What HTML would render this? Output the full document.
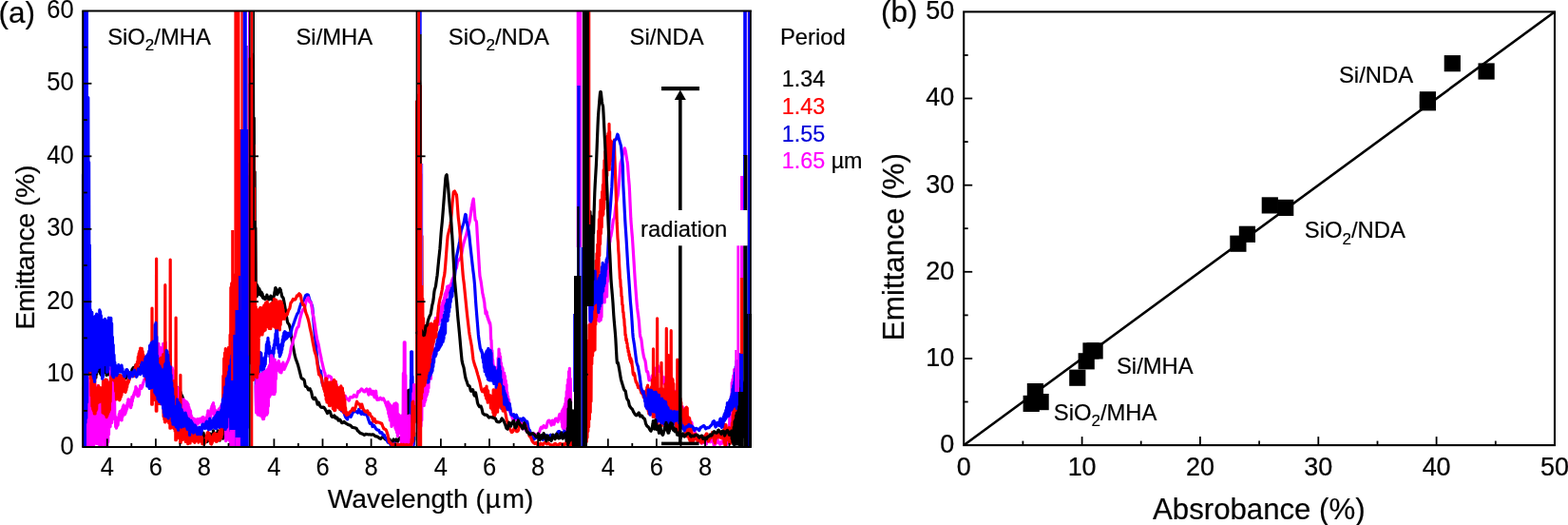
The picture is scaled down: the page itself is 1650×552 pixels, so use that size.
<!DOCTYPE html>
<html lang="en"><head><meta charset="utf-8"><title>Emittance and absorbance</title>
<style>html,body{margin:0;padding:0;background:#fff}body{width:1650px;height:552px;overflow:hidden}svg{display:block}</style>
</head><body>
<svg width="1650" height="552" viewBox="0 0 1650 552">
<rect width="1650" height="552" fill="#fff"/>
<defs>
<clipPath id="c0"><rect x="85.7" y="11.4" width="176.1" height="459.2"/></clipPath>
<clipPath id="c1"><rect x="261.3" y="11.4" width="176.1" height="459.2"/></clipPath>
<clipPath id="c2"><rect x="436.9" y="11.4" width="176.3" height="459.2"/></clipPath>
<clipPath id="c3"><rect x="612.7" y="11.4" width="178.8" height="459.2"/></clipPath>
</defs>
<g clip-path="url(#c0)" fill="none" stroke-linejoin="round" stroke-linecap="round">
<polyline stroke="#000" stroke-width="3.2" points="88.5,387.4 88.9,393.1 89.3,388.2 89.7,393.1 90.1,389.1 90.5,393.5 90.9,386.9 91.3,391.9 91.7,385.7 92.1,392.1 92.5,387.1 92.9,393.0 93.3,387.0 93.7,393.7 94.1,386.8 94.5,392.8 94.9,386.6 95.3,393.0 95.7,385.7 96.1,392.4 96.5,383.9 96.9,390.1 97.3,382.7 97.7,389.8 98.1,383.2 98.5,392.8 98.9,388.8 99.3,396.9 99.7,390.8 100.1,397.4 100.5,391.6 100.9,397.1 101.3,390.4 101.7,393.3 102.1,388.2 102.5,390.7 102.9,385.9 103.3,388.4 103.7,383.6 104.1,389.2 104.5,384.6 104.9,390.7 105.3,386.5 105.7,392.8 106.1,389.4 106.5,394.4 106.9,389.1 107.3,391.8 107.7,386.9 108.1,391.0 108.5,386.7 108.9,391.2 109.3,387.4 109.7,391.0 110.1,387.2 110.5,390.6 110.9,386.4 111.3,392.0 111.7,390.5 112.1,394.7 112.5,390.9 112.9,393.6 113.3,390.3 113.7,393.1 114.1,390.7 114.5,393.8 114.9,391.0 115.3,393.9 115.7,390.5 116.1,392.8 116.5,389.6 116.9,391.3 117.3,387.0 117.7,387.8 118.1,385.8 118.5,389.1 118.9,387.5 119.3,389.9 119.7,387.5 120.1,389.2 120.5,387.7 120.9,390.7 121.3,389.9 121.7,392.5 122.1,390.6 122.5,392.4 122.9,390.5 123.3,394.0 123.7,394.0 124.1,397.2 124.5,395.5 124.9,395.8 125.3,394.5 125.7,395.5 126.1,396.4 126.5,398.4 126.9,398.8 127.3,399.1 127.7,397.9 128.1,398.2 128.5,397.4 128.9,398.1 129.3,397.6 129.7,398.2 130.1,396.1 130.5,394.5 130.9,392.5 131.3,393.1 131.7,394.8 132.1,396.6 132.5,397.7 132.9,395.9 133.3,394.1 133.7,392.3 134.1,391.9 134.5,391.7 134.9,391.6 135.3,391.4 135.7,392.5 136.1,394.0 136.5,395.2 136.9,394.6 137.3,394.1 137.7,393.6 138.1,392.3 138.5,390.7 138.9,388.7 139.3,387.9 139.7,387.4 140.1,387.0 140.5,386.4 140.9,387.7 141.3,388.4 141.7,390.3 142.1,389.4 142.5,387.7 142.9,383.8 143.3,384.9 143.7,383.9 144.1,386.4 144.5,385.7 144.9,387.6 145.3,386.7 145.7,389.1 146.1,386.9 146.5,389.5 146.9,386.1 147.3,389.6 147.7,386.1 148.1,388.2 148.5,383.5 148.9,384.8 149.3,380.1 149.7,381.6 150.1,380.1 150.5,383.5 150.9,382.2 151.3,385.1 151.7,383.4 152.1,386.7 152.5,384.5 152.9,387.2 153.3,384.3 153.7,387.5 154.1,383.3 154.5,384.9 154.9,379.5 155.3,383.1 155.7,378.9 156.1,383.7 156.5,379.1 156.9,382.7 157.3,378.6 157.7,382.2 158.1,377.3 158.5,382.8 158.9,378.0 159.3,386.2 159.7,379.5 160.1,388.6 160.5,381.2 160.9,391.1 161.3,382.2 161.7,389.3 162.1,382.8 162.5,389.9 162.9,381.8 163.3,389.4 163.7,380.7 164.1,388.3 164.5,383.0 164.9,387.8 165.3,383.8 165.7,391.6 166.1,385.4 166.5,394.4 166.9,386.9 167.3,392.9 167.7,383.6 168.1,395.0 168.5,382.4 168.9,394.9 169.3,381.8 169.7,400.1 170.1,383.7 170.5,398.5 170.9,379.9 171.3,400.3 171.7,379.8 172.1,403.6 172.5,390.8 172.9,411.9 173.3,391.8 173.7,416.1 174.1,394.0 174.5,417.3 174.9,393.8 175.3,414.4 175.7,387.6 176.1,416.4 176.5,388.7 176.9,418.6 177.3,388.9 177.7,418.0 178.1,390.6 178.5,419.5 178.9,398.8 179.3,425.7 179.7,398.7 180.1,429.2 180.5,401.9 180.9,428.8 181.3,404.7 181.7,434.2 182.1,411.8 182.5,436.0 182.9,413.7 183.3,436.5 183.7,417.7 184.1,440.3 184.5,415.1 184.9,443.3 185.3,415.6 185.7,445.3 186.1,416.3 186.5,442.8 186.9,407.5 187.3,438.9 187.7,410.9 188.1,439.5 188.5,410.1 188.9,440.8 189.3,410.9 189.7,442.8 190.1,412.3 190.5,443.7 190.9,414.7 191.3,443.3 191.7,416.1 192.1,434.6 192.5,418.0 192.9,437.2 193.3,421.4 193.7,438.6 194.1,427.3 194.5,449.3 194.9,430.4 195.3,451.3 195.7,434.2 196.1,453.7 196.5,435.7 196.9,454.2 197.3,437.6 197.7,455.0 198.1,436.4 198.5,453.6 198.9,438.8 199.3,455.1 199.7,441.6 200.1,455.1 200.5,444.5 200.9,454.6 201.3,443.5 201.7,453.6 202.1,445.5 202.5,456.5 202.9,449.9 203.3,458.4 203.7,450.2 204.1,457.1 204.5,450.5 204.9,454.5 205.3,452.9 205.7,457.0 206.1,455.6 206.5,456.8 206.9,453.6 207.3,455.3 207.7,452.2 208.1,454.8 208.5,452.4 208.9,455.4 209.3,454.7 209.7,456.9 210.1,456.7 210.5,458.2 210.9,458.2 211.3,459.8 211.7,458.5 212.1,457.8 212.5,455.4 212.9,456.0 213.3,455.0 213.7,456.3 214.1,455.2 214.5,458.1 214.9,458.3 215.3,461.3 215.7,461.3 216.1,463.2 216.5,462.2 216.9,464.1 217.3,462.9 217.7,464.5 218.1,462.9 218.5,464.1 218.9,461.8 219.3,462.2 219.7,460.0 220.1,460.6 220.5,458.2 220.9,458.9 221.3,456.0 221.7,458.9 222.1,457.7 222.5,461.4 222.9,460.3 223.3,462.9 223.7,458.1 224.1,457.6 224.5,452.8 224.9,456.0 225.3,455.1 225.7,459.4 226.1,457.3 226.5,461.1 226.9,457.2 227.3,460.6 227.7,456.5 228.1,460.0 228.5,455.1 228.9,457.7 229.3,452.8 229.7,457.6 230.1,455.5 230.5,461.4 230.9,458.2 231.3,463.1 231.7,454.3 232.1,459.3 232.5,448.8 232.9,456.7 233.3,450.5 233.7,459.1 234.1,450.9 234.5,461.1 234.9,448.4 235.3,459.8 235.7,445.2 236.1,458.3 236.5,435.9 236.9,457.7 237.3,436.6 237.7,459.2"/>
<polyline stroke="#f0f" stroke-width="3.2" points="87.7,408.5 88.1,470.9 88.5,405.1 88.9,469.1 89.3,403.4 89.7,473.0 90.1,406.0 90.5,477.5 90.9,419.6 91.3,475.4 91.7,420.9 92.1,476.1 92.5,420.5 92.9,473.5 93.3,421.4 93.7,477.8 94.1,417.0 94.5,471.4 94.9,417.2 95.3,468.1 95.7,418.9 96.1,469.9 96.5,408.5 96.9,476.3 97.3,404.9 97.7,472.1 98.1,406.0 98.5,476.6 98.9,409.2 99.3,454.6 99.7,406.0 100.1,457.1 100.5,410.0 100.9,457.1 101.3,407.8 101.7,466.4 102.1,425.3 102.5,463.4 102.9,425.6 103.3,463.4 103.7,418.3 104.1,463.3 104.5,421.8 104.9,462.4 105.3,419.1 105.7,464.2 106.1,423.9 106.5,469.3 106.9,412.2 107.3,468.8 107.7,413.7 108.1,453.0 108.5,428.9 108.9,454.6 109.3,427.2 109.7,457.3 110.1,429.6 110.5,452.6 110.9,431.5 111.3,476.9 111.7,423.2 112.1,475.4 112.5,420.7 112.9,476.7"/>
<polyline stroke="#f0f" stroke-width="3.2" points="87.7,425.1 88.1,464.3 88.5,423.7 88.9,465.1 89.3,401.6 89.7,470.6 90.1,399.5 90.5,470.9 90.9,396.4 91.3,468.0 91.7,401.8 92.1,473.6 92.5,397.6 92.9,470.3 93.3,402.9 93.7,475.6 94.1,426.0 94.5,474.4 94.9,424.2 95.3,474.2 95.7,406.5 96.1,461.3 96.5,408.3 96.9,464.2 97.3,410.2 97.7,460.5 98.1,411.2 98.5,453.1 98.9,421.6 99.3,456.4 99.7,422.0 100.1,465.8 100.5,419.1 100.9,461.7 101.3,417.1 101.7,465.4 102.1,409.0 102.5,466.1 102.9,405.3 103.3,464.1 103.7,409.4 104.1,467.3 104.5,426.9 104.9,467.0 105.3,430.4 105.7,467.6 106.1,429.8 106.5,465.2 106.9,430.2 107.3,464.2 107.7,410.6 108.1,454.8 108.5,408.5 108.9,450.9 109.3,409.4 109.7,452.3 110.1,413.5 110.5,473.2 110.9,411.8 111.3,469.8 111.7,408.8 112.1,472.6 112.5,410.8 112.9,461.6 113.3,416.0 113.7,464.7 114.1,414.0 114.5,456.7 114.9,408.1 115.3,449.3 115.7,401.4 116.1,448.5 116.5,387.0 116.9,442.2 117.3,374.5 117.7,444.4 118.1,378.7 118.5,440.1 118.9,379.2 119.3,425.6 119.7,396.6 120.1,430.2 120.5,415.2 120.9,441.2 121.3,437.6 121.7,448.6 122.1,442.5 122.5,450.1 122.9,442.9 123.3,448.2 123.7,441.2 124.1,446.8 124.5,438.6 124.9,442.5 125.3,435.4 125.7,440.0 126.1,432.6 126.5,439.4 126.9,432.2 127.3,441.0 127.7,434.0 128.1,442.0 128.5,430.3 128.9,438.4 129.3,427.6 129.7,436.1 130.1,425.8 130.5,434.8 130.9,427.2 131.3,435.8 131.7,427.8 132.1,434.3 132.5,429.0 132.9,431.9 133.3,426.6 133.7,429.7 134.1,423.3 134.5,426.9 134.9,419.8 135.3,426.3 135.7,420.2 136.1,426.8 136.5,421.9 136.9,427.2 137.3,420.7 137.7,428.6 138.1,420.5 138.5,426.2 138.9,417.3 139.3,422.0 139.7,417.2 140.1,418.5 140.5,415.3 140.9,416.0 141.3,412.8 141.7,414.0 142.1,410.9 142.5,413.8 142.9,406.7 143.3,412.8 143.7,408.1 144.1,414.8 144.5,411.3 144.9,416.6 145.3,411.8 145.7,416.3 146.1,411.6 146.5,414.8 146.9,409.1 147.3,408.6 147.7,405.5 148.1,407.9 148.5,406.3 148.9,408.4 149.3,406.6 149.7,407.1 150.1,404.1 150.5,404.3 150.9,401.7 151.3,401.6 151.7,399.4 152.1,399.9 152.5,398.4 152.9,398.8 153.3,396.0 153.7,394.9 154.1,391.3 154.5,393.9 154.9,389.9 155.3,395.6 155.7,388.2 156.1,398.1 156.5,386.3 156.9,397.8 157.3,384.5 157.7,399.2 158.1,381.5 158.5,400.7 158.9,380.0 159.3,400.3 159.7,381.8 160.1,406.5 160.5,381.1 160.9,409.8 161.3,379.9 161.7,408.9 162.1,377.7 162.5,405.8 162.9,379.5 163.3,406.2 163.7,375.4 164.1,407.9 164.5,373.7 164.9,417.9 165.3,363.4 165.7,418.1 166.1,365.0 166.5,417.4 166.9,361.3 167.3,421.2 167.7,367.7 168.1,421.8 168.5,365.2 168.9,424.7 169.3,383.9 169.7,402.3 170.1,382.2 170.5,407.9 170.9,382.5 171.3,405.3 171.7,361.3 172.1,417.8 172.5,366.1 172.9,416.9 173.3,365.6 173.7,420.2 174.1,359.8 174.5,427.6 174.9,370.4 175.3,428.6 175.7,372.4 176.1,428.6 176.5,373.0 176.9,427.0 177.3,392.2 177.7,430.2 178.1,397.1 178.5,431.9 178.9,382.8 179.3,436.0 179.7,384.5 180.1,433.7 180.5,387.5 180.9,437.5 181.3,386.9 181.7,437.9 182.1,389.3 182.5,434.3 182.9,404.7 183.3,433.4 183.7,408.5 184.1,435.1 184.5,401.8 184.9,434.7 185.3,404.3 185.7,433.4 186.1,406.5 186.5,435.3 186.9,408.2 187.3,426.7 187.7,408.9 188.1,428.4 188.5,412.2 188.9,432.6 189.3,419.8 189.7,431.9 190.1,422.3 190.5,436.3 190.9,419.5 191.3,435.6 191.7,422.1 192.1,436.9 192.5,420.7 192.9,436.9 193.3,419.8 193.7,435.8 194.1,421.0 194.5,436.4 194.9,421.6 195.3,437.4 195.7,422.1 196.1,434.6 196.5,422.5 196.9,433.9 197.3,423.7 197.7,435.5 198.1,425.1 198.5,437.0 198.9,428.2 199.3,438.4 199.7,430.7 200.1,439.2 200.5,432.2 200.9,441.4 201.3,436.8 201.7,444.9 202.1,439.5 202.5,443.9 202.9,439.7 203.3,443.4 203.7,440.2 204.1,443.8 204.5,440.3 204.9,444.5 205.3,443.4 205.7,448.2 206.1,446.5 206.5,448.2 206.9,444.2 207.3,445.0 207.7,440.6 208.1,440.8 208.5,441.1 208.9,445.2 209.3,444.2 209.7,444.2 210.1,440.4 210.5,441.3 210.9,440.5 211.3,443.7 211.7,442.4 212.1,444.2 212.5,439.7 212.9,441.0 213.3,438.5 213.7,440.8 214.1,438.6 214.5,443.3 214.9,442.9 215.3,446.7 215.7,442.1 216.1,444.7 216.5,440.9 216.9,443.3 217.3,439.0 217.7,441.6 218.1,436.2 218.5,438.5 218.9,431.9 219.3,436.7 219.7,434.4 220.1,442.0 220.5,437.9 220.9,442.1 221.3,432.9 221.7,438.3 222.1,429.7 222.5,435.4 222.9,427.2 223.3,434.4 223.7,425.0 224.1,432.8 224.5,423.6 224.9,433.6 225.3,427.0 225.7,436.9 226.1,430.5 226.5,438.6 226.9,431.6 227.3,438.4 227.7,433.3 228.1,439.3 228.5,433.3 228.9,439.1 229.3,432.6 229.7,436.8 230.1,430.3 230.5,435.2 230.9,429.6 231.3,439.8 231.7,428.5 232.1,440.4 232.5,427.0 232.9,441.2 233.3,424.8 233.7,441.9 234.1,429.0 234.5,443.8 234.9,428.1 235.3,436.4 235.7,413.5 236.1,438.3 236.5,406.7 236.9,438.6 237.3,400.7 237.7,463.7 238.1,399.8 238.5,462.6 238.9,395.9 239.3,438.2 239.7,394.4 240.1,436.5 240.5,393.0 240.9,439.4 241.3,395.7 241.7,463.5 242.1,393.5 242.5,466.8 242.9,394.5 243.3,467.8 243.7,382.1 244.1,459.4 244.5,372.0 244.9,427.9 245.3,353.3 245.7,423.3 246.1,342.7 246.5,420.8"/>
<polyline stroke="#f00" stroke-width="3.2" points="94.9,389.9 95.3,398.2 95.7,394.1 96.1,416.2 96.5,395.8 96.9,427.2 97.3,395.4 97.7,430.3 98.1,396.3 98.5,432.1 98.9,394.0 99.3,434.9 99.7,395.3 100.1,434.9 100.5,407.3 100.9,431.9 101.3,408.4 101.7,430.3 102.1,408.9 102.5,423.9 102.9,408.0 103.3,423.2 103.7,405.7 104.1,423.0 104.5,407.2 104.9,422.4 105.3,409.1 105.7,420.2 106.1,408.1 106.5,422.0 106.9,407.6 107.3,419.7 107.7,408.4 108.1,433.9 108.5,400.6 108.9,433.8 109.3,402.7 109.7,434.7 110.1,400.1 110.5,435.4 110.9,399.0 111.3,436.2 111.7,399.0 112.1,438.6 112.5,399.6 112.9,436.9 113.3,403.9 113.7,434.8 114.1,402.3 114.5,433.1 114.9,402.9 115.3,431.1 115.7,401.8 116.1,422.3 116.5,398.1 116.9,396.5 117.3,396.2 117.7,394.9 118.1,393.6 118.5,394.4 118.9,396.2 119.3,398.0 119.7,399.8 120.1,400.2 120.5,400.0 120.9,399.8 121.3,401.5 121.7,411.4 122.1,396.4 122.5,419.9 122.9,395.8 123.3,416.9 123.7,395.1 124.1,418.8 124.5,394.8 124.9,417.0 125.3,394.9 125.7,420.8 126.1,395.1 126.5,419.4 126.9,394.6 127.3,417.2 127.7,395.5 128.1,414.9 128.5,395.6 128.9,412.0 129.3,396.9 129.7,410.3 130.1,397.1 130.5,410.1 130.9,400.0 131.3,411.8 131.7,402.6 132.1,412.5 132.5,403.2 132.9,410.1 133.3,402.2 133.7,407.1 134.1,401.1 134.5,403.5 134.9,399.6 135.3,401.9 135.7,398.8 136.1,399.6 136.5,396.7 136.9,397.0 137.3,393.8 137.7,395.3 138.1,393.9 138.5,394.5 138.9,392.4 139.3,394.4 139.7,392.2 140.1,395.7 140.5,392.4 140.9,395.4 141.3,392.8 141.7,393.1 142.1,387.0 142.5,388.4 142.9,383.8 143.3,390.5 143.7,382.9 144.1,389.7 144.5,380.3 144.9,387.5 145.3,375.0 145.7,382.2 146.1,371.7 146.5,379.8 146.9,369.1 147.3,381.5 147.7,366.0 148.1,381.6 148.5,366.9 148.9,382.8 149.3,366.4 149.7,383.6 150.1,369.3 150.5,384.9 150.9,373.0 151.3,388.0 151.7,375.6 152.1,392.6 152.5,375.9 152.9,394.3 153.3,378.7 153.7,399.0 154.1,378.0 154.5,395.9 154.9,377.5 155.3,397.5 155.7,376.4 156.1,400.7 156.5,377.9 156.9,402.2 157.3,369.7 157.7,402.3 158.1,368.3 158.5,404.6 158.9,367.3 159.3,405.3 159.7,370.3 159.7,425.2 160.0,324.1 160.3,425.2 160.1,404.2 160.5,367.4 160.9,419.7 161.3,363.3 161.7,419.9 162.1,363.5 162.5,420.4 162.9,376.3 163.3,408.6 163.7,375.1 164.1,410.5 164.5,379.0 164.3,432.2 164.6,272.2 164.9,432.2 164.9,413.7 165.3,379.4 165.7,412.3 166.1,379.7 166.5,424.5 166.9,378.7 167.3,423.5 167.7,377.7 168.1,424.6 168.5,378.0 168.9,411.5 169.3,376.2 169.7,411.6 170.1,377.9 170.5,416.2 170.9,376.8 171.3,417.4 171.7,372.5 172.1,438.0 172.5,372.5 172.9,441.1 173.3,377.3 173.7,438.9 173.5,443.8 173.8,299.7 174.1,443.8 174.1,390.7 174.5,439.9 174.9,393.1 175.3,441.4 175.7,394.4 176.1,440.3 176.5,401.2 176.9,442.4 177.3,384.9 177.7,444.8 178.1,382.6 178.5,442.5 178.9,387.4 178.9,450.2 179.2,273.0 179.5,450.2 179.3,444.8 179.7,388.5 180.1,432.2 180.5,401.2 180.9,435.4 181.3,400.9 181.7,437.9 182.1,404.1 182.5,450.1 182.9,400.6 183.3,450.7 183.7,404.5 184.1,453.2 184.5,401.9 184.9,451.9 184.8,462.7 185.1,334.0 185.4,462.7 185.3,401.2 185.7,452.1 186.1,422.9 186.5,460.5 186.9,426.8 187.3,459.2 187.7,429.7 188.1,460.6 188.5,433.6 188.9,459.3 189.3,432.7 189.7,460.9 189.6,465.5 189.9,394.3 190.2,465.5 190.1,433.4 190.5,462.2 190.9,437.3 191.3,461.8 191.7,439.3 192.1,462.4 192.5,443.5 192.9,459.6 193.3,444.8 193.7,459.6 194.1,445.8 194.5,459.7 194.9,444.9 195.3,464.4 195.7,445.9 196.1,462.6 196.5,448.9 196.9,464.3 197.3,453.2 197.7,466.7 198.1,454.1 198.5,464.8 198.9,452.3 199.3,462.4 199.7,453.2 200.1,465.9 200.5,454.8 200.9,463.4 201.3,453.5 201.7,462.3 202.1,453.1 202.5,461.4 202.9,454.3 203.3,464.0 203.7,455.4 204.1,464.5 204.5,456.3 204.9,465.3 205.3,457.2 205.7,464.1 206.1,455.0 206.5,461.2 206.9,452.7 207.3,459.8 207.7,454.2 208.1,463.3 208.5,458.2 208.9,465.2 209.3,458.1 209.7,463.2 210.1,456.3 210.5,463.1 210.9,456.7 211.3,463.5 211.7,457.9 212.1,464.7 212.5,460.2 212.9,466.6 213.3,461.9 213.7,466.5 214.1,464.5 214.5,467.4 214.9,464.6 215.3,466.2 215.7,462.9 216.1,464.6 216.5,461.0 216.9,463.5 217.3,458.2 217.7,461.2 218.1,455.4 218.5,459.0 218.9,454.3 219.3,459.7 219.7,455.3 220.1,461.4 220.5,457.4 220.9,463.6 221.3,459.3 221.7,466.3 222.1,461.8 222.5,467.2 222.9,460.5 223.3,465.6 223.7,458.8 224.1,463.9 224.5,456.8 224.9,462.0 225.3,456.4 225.7,459.9 226.1,455.5 226.5,460.1 226.9,457.5 227.3,464.2 227.7,457.6 228.1,464.5 228.5,456.6 228.9,463.6 229.3,458.6 229.7,462.3 230.1,457.4 230.5,461.7 230.9,454.2 231.3,462.4 231.7,452.9 232.1,460.7 232.5,442.2 232.9,459.8 233.3,437.9 233.7,457.1 234.1,425.5 234.5,446.8 234.9,395.2 235.3,438.2 235.7,376.9 236.1,436.1 236.5,371.1 236.9,431.6 237.3,366.5 237.7,440.6 238.1,388.1 238.5,440.0 238.9,381.3 239.3,431.8 239.7,382.7 240.1,434.0 240.5,365.4 240.9,430.9 241.3,365.5 241.7,432.3 242.1,352.1 242.5,432.6 242.9,302.3 243.3,444.7 243.7,297.9 244.1,457.7 244.5,300.0 244.9,449.7 245.3,303.5 245.7,456.4 246.1,298.1 246.5,451.3 246.9,289.2 247.3,400.1 247.7,294.6 248.1,398.5 248.5,287.6 248.9,390.8 249.3,311.1 249.7,404.5 250.1,299.8 250.5,398.8 250.9,308.6 251.3,403.4 251.7,312.4 252.1,391.7 252.5,263.9 252.9,402.3 253.3,266.1 253.7,462.3 254.1,263.1 254.5,457.8 254.9,267.2 255.3,465.1 255.7,270.5"/>
<polyline stroke="#00f" stroke-width="3.2" points="87.2,183.7 87.6,388.4 88.0,159.2 88.4,409.0 88.8,183.2 89.2,386.2 89.6,127.6 90.0,444.5 90.4,121.4 90.8,439.6 91.2,142.9 91.6,423.0 92.0,124.3 92.4,383.5 92.8,102.6 93.2,363.7 93.6,170.6 94.0,386.7 94.4,257.8 94.8,389.8 95.2,325.5 95.6,379.8 96.0,330.9 96.4,383.8 96.8,328.3 97.2,384.9 97.6,338.0 98.0,395.3 98.4,341.1 98.8,398.0 99.2,347.8 99.6,401.5 100.0,332.5 100.4,389.8 100.8,334.2 101.2,391.5 101.6,330.2 102.0,389.2 102.4,333.2 102.8,384.8 103.2,334.4 103.6,385.1 104.0,334.1 104.4,386.3 104.8,325.9 105.2,377.7 105.6,327.7 106.0,376.9 106.4,331.9 106.8,376.8 107.2,338.7 107.6,398.2 108.0,340.4 108.4,396.4 108.8,338.9 109.2,379.7 109.6,336.0 110.0,383.5 110.4,335.4 110.8,383.0 111.2,336.5 111.6,381.6 112.0,339.2 112.4,391.2 112.8,360.0 113.2,391.0 113.6,359.8 114.0,388.6 114.4,334.1 114.8,383.9 115.2,337.1 115.6,383.3 116.0,334.3 116.4,383.2 116.8,334.3 117.2,384.1 117.6,340.0 118.0,394.2 118.4,354.3 118.8,395.8 119.2,362.6 119.6,396.8 120.0,373.1 120.4,387.5 120.8,380.8 121.2,388.6 121.6,384.0 122.0,392.9 122.4,387.2 122.8,394.9 123.2,388.4 123.6,392.9 124.0,385.6 124.4,388.3 124.8,383.6 125.2,388.3 125.6,385.9 126.0,390.9 126.4,388.6 126.8,391.1 127.2,386.4 127.6,388.4 128.0,384.1 128.4,388.4 128.8,387.5 129.2,391.9 129.6,390.7 130.0,394.1 130.4,392.7 130.8,395.9 131.2,394.7 131.6,395.5 132.0,392.0 132.4,392.4 132.8,388.9 133.2,390.3 133.6,388.5 134.0,391.0 134.4,389.6 134.8,392.8 135.2,392.8 135.6,396.3 136.0,396.4 136.4,397.5 136.8,394.5 137.2,394.4 137.6,391.5 138.0,392.1 138.4,392.1 138.8,394.1 139.2,393.8 139.6,395.8 140.0,393.2 140.4,392.9 140.8,390.3 141.2,390.1 141.6,389.2 142.0,391.2 142.4,391.4 142.8,393.6 143.2,393.9 143.6,396.3 144.0,395.6 144.4,394.5 144.8,391.8 145.2,390.7 145.6,387.9 146.0,389.5 146.4,389.3 146.8,392.1 147.2,391.1 147.6,393.7 148.0,388.8 148.4,389.3 148.8,383.1 149.2,386.7 149.6,381.2 150.0,389.5 150.4,385.8 150.8,392.8 151.2,387.2 151.6,395.1 152.0,386.1 152.4,392.8 152.8,377.0 153.2,395.3 153.6,374.9 154.0,396.3 154.4,374.3 154.8,405.9 155.2,373.1 155.6,404.4 156.0,371.5 156.4,406.6 156.8,369.2 157.2,408.5 157.6,363.4 158.0,406.1 158.4,362.7 158.8,406.4 159.2,360.6 159.6,407.7 160.0,360.4 160.4,404.9 160.8,359.2 161.2,400.5 161.6,374.4 162.0,399.9 162.4,371.3 162.8,412.5 163.2,341.4 163.6,413.4 164.0,339.4 164.4,414.9 164.8,353.9 165.2,416.2 165.6,374.2 166.0,419.8 166.4,383.0 166.8,420.3 167.2,384.7 167.6,422.2 168.0,384.9 168.4,422.7 168.8,386.9 169.2,422.3 169.6,388.4 170.0,424.8 170.4,393.4 170.8,425.2 171.2,393.1 171.6,429.3 172.0,392.4 172.4,434.0 172.8,387.6 173.2,437.2 173.6,382.9 174.0,436.9 174.4,381.9 174.8,437.9 175.2,368.3 175.6,434.6 176.0,369.5 176.4,435.6 176.8,373.2 177.2,439.8 177.6,381.3 178.0,420.6 178.4,386.5 178.8,422.9 179.2,385.5 179.6,429.8 180.0,394.3 180.4,437.8 180.8,402.4 181.2,442.6 181.6,408.3 182.0,446.2 182.4,416.5 182.8,445.9 183.2,427.1 183.6,446.2 184.0,427.3 184.4,446.9 184.8,428.9 185.2,448.6 185.6,428.5 186.0,447.0 186.4,419.9 186.8,450.2 187.2,422.6 187.6,452.2 188.0,423.2 188.4,447.6 188.8,425.4 189.2,447.9 189.6,425.7 190.0,448.2 190.4,430.3 190.8,449.1 191.2,430.7 191.6,447.5 192.0,433.1 192.4,447.6 192.8,436.0 193.2,448.3 193.6,435.1 194.0,447.4 194.4,436.5 194.8,447.0 195.2,434.2 195.6,447.4 196.0,436.7 196.4,449.2 196.8,439.4 197.2,451.5 197.6,441.1 198.0,450.5 198.4,440.3 198.8,452.2 199.2,443.3 199.6,457.5 200.0,445.9 200.4,454.4 200.8,442.0 201.2,451.5 201.6,443.4 202.0,452.2 202.4,444.9 202.8,453.8 203.2,448.3 203.6,455.1 204.0,448.7 204.4,453.1 204.8,446.9 205.2,452.2 205.6,447.5 206.0,453.2 206.4,449.1 206.8,454.9 207.2,451.8 207.6,456.7 208.0,452.0 208.4,456.0 208.8,451.8 209.2,456.3 209.6,449.2 210.0,454.1 210.4,449.6 210.8,456.3 211.2,451.3 211.6,456.7 212.0,449.5 212.4,453.7 212.8,446.6 213.2,449.3 213.6,446.1 214.0,449.7 214.4,446.3 214.8,450.0 215.2,446.7 215.6,450.6 216.0,446.7 216.4,449.9 216.8,444.4 217.2,448.6 217.6,443.0 218.0,449.5 218.4,444.8 218.8,451.0 219.2,446.1 219.6,451.8 220.0,443.2 220.4,448.7 220.8,440.1 221.2,447.9 221.6,441.9 222.0,451.2 222.4,443.6 222.8,449.7 223.2,444.0 223.6,449.5 224.0,442.3 224.4,448.1 224.8,439.7 225.2,446.3 225.6,439.2 226.0,450.1 226.4,438.2 226.8,450.0 227.2,436.8 227.6,450.6 228.0,435.8 228.4,445.5 228.8,433.6 229.2,444.5 229.6,433.5 230.0,447.7 230.4,434.1 230.8,449.4 231.2,435.0 231.6,448.2 232.0,433.0 232.4,447.7 232.8,431.1 233.2,448.2 233.6,425.4 234.0,448.8 234.4,419.9 234.8,448.2 235.2,418.4 235.6,445.2 236.0,414.8 236.4,450.1 236.8,407.0 237.2,451.5 237.6,406.3 238.0,448.9 238.4,397.9 238.8,449.1 239.2,401.2 239.6,435.6 240.0,395.0 240.4,438.0 240.8,390.8 241.2,437.8 241.6,384.9 242.0,437.4 242.4,386.8 242.8,452.7 243.2,378.2 243.6,453.8 244.0,373.8 244.4,465.5 244.8,359.8 245.2,464.2 245.6,348.8 246.0,458.4 246.4,370.4 246.8,434.5 247.2,361.6 247.6,432.6 248.0,359.1 248.4,434.4 248.8,335.2 249.2,414.0 249.6,258.8 250.0,417.1 250.4,226.9 250.8,420.8 251.2,188.4 251.6,411.7 252.0,180.9 252.4,406.3 252.8,230.6 253.2,454.1 253.6,226.0 254.0,460.4 254.4,216.4 254.8,450.9 255.2,215.0 255.6,447.9 256.0,216.5 256.4,368.0 256.8,237.0 257.2,368.2 257.6,225.7 258.0,366.2 258.4,232.9 258.8,370.6 259.2,166.3 259.6,371.2 260.0,172.1 260.4,447.4 260.8,190.9 261.2,449.0 261.6,185.8"/>
<rect x="87.8" y="11.0" width="5.2" height="309.0" fill="#00f" stroke="none"/>
<rect x="87.8" y="320.0" width="3.2" height="149.0" fill="#00f" stroke="none"/>
<rect x="246.4" y="11.0" width="9.3" height="458.0" fill="#f00" stroke="none"/>
<rect x="243.2" y="242.0" width="3.2" height="158.0" fill="#f00" stroke="none"/>
<rect x="252.0" y="11.0" width="2.0" height="125.0" fill="#ff8080" stroke="none"/>
<rect x="253.2" y="136.0" width="9.0" height="190.0" fill="#00f" stroke="none"/>
<rect x="251.0" y="290.0" width="2.2" height="36.0" fill="#00f" stroke="none"/>
<rect x="247.5" y="326.0" width="14.7" height="26.0" fill="#00f" stroke="none"/>
<rect x="245.3" y="352.0" width="16.9" height="117.0" fill="#00f" stroke="none"/>
<rect x="255.7" y="11.0" width="6.5" height="125.0" fill="#00f" stroke="none"/>
<rect x="259.8" y="11.0" width="1.2" height="37.0" fill="#fff" stroke="none"/>
<rect x="259.8" y="48.0" width="1.2" height="88.0" fill="#9060c0" stroke="none"/>
<rect x="261.0" y="11.0" width="1.0" height="125.0" fill="#f0f" stroke="none"/>
<rect x="241.5" y="452.0" width="6.0" height="17.0" fill="#f0f" stroke="none"/>
<rect x="247.5" y="460.0" width="5.5" height="9.0" fill="#f0f" stroke="none"/>
</g>
<g clip-path="url(#c1)" fill="none" stroke-linejoin="round" stroke-linecap="round">
<polyline stroke="#000" stroke-width="3.2" points="263.3,88.0 263.7,269.6 264.1,80.7 264.5,283.6 264.9,68.0 265.3,281.6 265.7,81.6 266.1,295.5 266.5,57.4 266.9,299.5 267.3,124.1 267.7,301.9 268.1,180.6 268.5,304.7 268.9,239.7 269.3,304.5 269.7,298.8 270.1,311.6 270.5,299.7 270.9,310.4 271.3,301.3 271.7,309.6 272.1,303.8 272.5,309.4 272.9,303.6 273.3,308.2 273.7,305.5 274.1,309.8 274.5,307.5 274.9,310.8 275.3,307.4 275.7,310.4 276.1,308.8 276.5,313.0 276.9,311.4 277.3,313.7 277.7,312.4 278.1,313.7 278.5,313.0 278.9,314.7 279.3,313.9 279.7,314.1 280.1,312.1 280.5,312.6 280.9,310.0 281.3,312.7 281.7,311.9 282.1,314.3 282.5,313.2 282.9,314.9 283.3,313.7 283.7,314.5 284.1,312.4 284.5,312.7 284.9,311.1 285.3,312.5 285.7,312.4 286.1,314.5 286.5,314.2 286.9,315.6 287.3,313.3 287.7,313.6 288.1,311.1 288.5,311.1 288.9,307.4 289.3,306.0 289.7,302.9 290.1,302.6 290.5,304.2 290.9,308.8 291.3,308.0 291.7,309.6 292.1,306.5 292.5,308.2 292.9,305.3 293.3,306.9 293.7,304.4 294.1,305.9 294.5,303.3 294.9,305.4 295.3,304.6 295.7,307.2 296.1,308.3 296.5,310.7 296.9,312.2 297.3,312.3 297.7,312.7 298.1,313.3 298.5,315.1 298.9,317.3 299.3,319.5 299.7,321.7 300.1,324.1 300.5,326.7 300.9,329.2 301.3,331.8 301.7,334.1 302.1,336.3 302.5,338.5 302.9,339.6 303.3,340.1 303.7,340.5 304.1,341.0 304.5,342.1 304.9,343.6 305.3,345.0 305.7,346.5 306.1,349.5 306.5,352.7 306.9,355.8 307.3,358.1 307.7,360.2 308.1,362.3 308.5,364.5 308.9,366.6 309.3,368.8 309.7,371.1 310.1,373.2 310.5,374.6 310.9,376.1 311.3,377.6 311.7,378.6 312.1,379.6 312.5,380.7 312.9,381.9 313.3,383.1 313.7,384.3 314.1,385.8 314.5,387.4 314.9,388.9 315.3,390.5 315.7,392.1 316.1,393.7 316.5,395.4 316.9,396.8 317.3,397.4 317.7,398.1 318.1,398.1 318.5,398.1 318.9,398.5 319.3,398.9 319.7,399.3 320.1,399.6 320.5,401.3 320.9,403.8 321.3,406.1 321.7,406.3 322.1,406.5 322.5,406.6 322.9,406.7 323.3,407.3 323.7,408.2 324.1,409.0 324.5,409.9 324.9,409.9 325.3,409.4 325.7,409.0 326.1,408.6 326.5,409.6 326.9,410.5 327.3,411.4 327.7,412.5 328.1,414.4 328.5,416.3 328.9,418.0 329.3,418.6 329.7,419.2 330.1,419.6 330.5,419.0 330.9,418.6 331.3,418.1 331.7,418.5 332.1,419.3 332.5,420.0 332.9,420.8 333.3,422.1 333.7,423.6 334.1,425.2 334.5,424.6 334.9,423.9 335.3,423.2 335.7,424.2 336.1,425.2 336.5,426.2 336.9,427.0 337.3,427.5 337.7,428.0 338.1,428.2 338.5,428.3 338.9,428.4 339.3,428.4 339.7,428.2 340.1,428.0 340.5,428.0 340.9,428.5 341.3,428.9 341.7,429.4 342.1,430.1 342.5,430.8 342.9,431.4 343.3,432.1 343.7,432.9 344.1,433.7 344.5,434.5 344.9,434.0 345.3,433.4 345.7,432.8 346.1,432.1 346.5,432.1 346.9,432.5 347.3,432.8 347.7,434.1 348.1,435.3 348.5,436.5 348.9,437.8 349.3,438.3 349.7,438.4 350.1,438.5 350.5,438.5 350.9,438.0 351.3,437.5 351.7,437.0 352.1,437.2 352.5,438.3 352.9,439.3 353.3,439.9 353.7,439.6 354.1,439.3 354.5,439.0 354.9,439.3 355.3,440.2 355.7,441.1 356.1,442.1 356.5,441.8 356.9,441.6 357.3,441.4 357.7,441.2 358.1,441.7 358.5,442.5 358.9,443.3 359.3,444.2 359.7,444.4 360.1,444.7 360.5,444.7 360.9,444.3 361.3,444.0 361.7,443.6 362.1,443.4 362.5,443.8 362.9,444.2 363.3,444.6 363.7,444.9 364.1,445.2 364.5,445.4 364.9,445.6 365.3,445.8 365.7,446.1 366.1,446.4 366.5,446.6 366.9,446.7 367.3,446.8 367.7,446.9 368.1,447.0 368.5,447.2 368.9,447.4 369.3,447.7 369.7,448.2 370.1,448.7 370.5,449.2 370.9,449.4 371.3,449.4 371.7,449.5 372.1,449.6 372.5,449.7 372.9,449.8 373.3,449.8 373.7,449.9 374.1,450.1 374.5,450.2 374.9,450.3 375.3,450.7 375.7,451.6 376.1,452.5 376.5,453.1 376.9,453.3 377.3,453.5 377.7,454.0 378.1,454.5 378.5,454.9 378.9,455.2 379.3,455.5 379.7,455.7 380.1,455.8 380.5,455.9 380.9,456.0 381.3,456.1 381.7,456.4 382.1,456.6 382.5,456.9 382.9,457.1 383.3,457.3 383.7,457.3 384.1,457.0 384.5,456.7 384.9,456.4 385.3,456.4 385.7,456.6 386.1,456.7 386.5,456.7 386.9,456.7 387.3,456.8 387.7,456.8 388.1,456.8 388.5,456.8 388.9,456.8 389.3,456.8 389.7,456.9 390.1,457.0 390.5,457.1 390.9,457.1 391.3,457.0 391.7,456.9 392.1,456.9 392.5,456.9 392.9,457.0 393.3,457.2 393.7,457.4 394.1,457.9 394.5,458.3 394.9,458.7 395.3,458.8 395.7,458.8 396.1,458.9 396.5,458.9 396.9,459.0 397.3,459.3 397.7,459.5 398.1,459.8 398.5,460.1 398.9,460.5 399.3,460.8 399.7,461.0 400.1,461.1 400.5,461.3 400.9,460.9 401.3,460.5 401.7,460.2 402.1,459.8 402.5,459.6 402.9,459.6 403.3,459.5 403.7,459.5 404.1,460.1 404.5,460.8 404.9,461.5 405.3,461.8 405.7,462.0 406.1,462.3 406.5,462.4 406.9,462.5 407.3,462.7 407.7,462.8 408.1,463.2 408.5,463.7 408.9,463.9 409.3,462.9 409.7,461.9 410.1,462.0 410.5,462.9 410.9,463.7 411.3,464.6 411.7,464.9 412.1,464.6 412.5,464.4 412.9,464.1 413.3,463.5 413.7,462.8 414.1,462.0 414.5,462.5 414.9,463.2 415.3,464.0 415.7,463.8 416.1,463.4 416.5,462.7 416.9,462.0 417.3,462.3 417.7,462.8 418.1,463.5 418.5,464.1 418.9,463.6 419.3,462.7 419.7,461.8 420.1,460.9 420.5,460.4 420.9,460.5 421.3,460.7 421.7,460.8 422.1,460.8 422.5,460.7 422.9,460.7 423.3,460.8 423.7,462.7 424.1,464.2 424.5,465.7 424.9,465.2 425.3,465.2 425.7,464.6 426.1,465.2 426.5,464.2 426.9,464.4 427.3,458.5 427.7,465.9 428.1,451.3 428.5,461.6 428.9,410.9 429.3,453.6 429.7,411.0 430.1,450.8 430.5,410.0 430.9,452.5 431.3,439.7 431.7,463.7 432.1,452.8 432.5,464.6 432.9,454.7 433.3,465.7 433.7,458.2 434.1,466.2 434.5,459.6 434.9,466.4 435.3,459.5 435.7,463.8 436.1,457.0 436.5,461.8 436.9,456.3"/>
<polyline stroke="#00f" stroke-width="3.2" points="269.2,398.1 269.6,429.2 270.0,384.4 270.4,399.9 270.8,381.5 271.2,395.6 271.6,377.4 272.0,392.9 272.4,373.5 272.8,391.1 273.2,370.5 273.6,388.2 274.0,370.7 274.4,383.5 274.8,371.4 275.2,385.3 275.6,376.4 276.0,389.2 276.4,383.7 276.8,393.6 277.2,384.3 277.6,390.0 278.0,379.1 278.4,385.2 278.8,375.4 279.2,383.1 279.6,371.2 280.0,374.9 280.4,362.0 280.8,370.2 281.2,359.4 281.6,369.0 282.0,355.3 282.4,367.0 282.8,359.6 283.2,371.6 283.6,364.0 284.0,374.9 284.4,368.5 284.8,381.6 285.2,377.6 285.6,388.0 286.0,380.7 286.4,384.0 286.8,372.7 287.2,376.4 287.6,365.9 288.0,371.6 288.4,362.4 288.8,366.9 289.2,357.3 289.6,362.6 290.0,350.8 290.4,362.4 290.8,344.6 291.2,359.4 291.6,346.0 292.0,361.4 292.4,355.9 292.8,366.6 293.2,362.1 293.6,370.7 294.0,366.9 294.4,374.9 294.8,371.0 295.2,373.2 295.6,364.9 296.0,370.9 296.4,361.4 296.8,367.7 297.2,357.0 297.6,363.8 298.0,353.4 298.4,359.4 298.8,349.8 299.2,356.5 299.6,348.7 300.0,357.2 300.4,349.2 300.8,356.5 301.2,350.1 301.6,355.9 302.0,350.6 302.4,354.8 302.8,350.3 303.2,353.6 303.6,350.3 304.0,353.4 304.4,352.1 304.8,353.2 305.2,353.3 305.6,353.2 306.0,351.4 306.4,349.2 306.8,347.1 307.2,345.0 307.6,343.9 308.0,342.9 308.4,342.0 308.8,340.9 309.2,339.8 309.6,338.6 310.0,337.5 310.4,336.3 310.8,335.2 311.2,334.1 311.6,333.0 312.0,332.0 312.4,331.0 312.8,330.0 313.2,329.5 313.6,329.1 314.0,328.7 314.4,326.8 314.8,325.4 315.2,324.0 315.6,322.6 316.0,321.4 316.4,320.2 316.8,319.0 317.2,318.4 317.6,317.9 318.0,317.5 318.4,317.1 318.8,316.7 319.2,316.3 319.6,316.1 320.0,315.9 320.4,314.9 320.8,313.2 321.2,311.8 321.6,310.7 322.0,310.2 322.4,310.1 322.8,310.0 323.2,309.8 323.6,309.9 324.0,310.0 324.4,310.2 324.8,311.7 325.2,313.2 325.6,314.7 326.0,315.6 326.4,316.4 326.8,317.2 327.2,318.0 327.6,319.3 328.0,320.5 328.4,321.8 328.8,323.5 329.2,328.2 329.6,333.1 330.0,338.1 330.4,343.1 330.8,346.9 331.2,350.6 331.6,354.4 332.0,358.7 332.4,363.0 332.8,367.3 333.2,371.5 333.6,375.4 334.0,379.3 334.4,383.0 334.8,384.7 335.2,386.3 335.6,388.0 336.0,389.6 336.4,389.9 336.8,389.9 337.2,389.8 337.6,390.5 338.0,393.6 338.4,396.8 338.8,399.9 339.2,403.0 339.6,404.4 340.0,405.2 340.4,406.1 340.8,406.4 341.2,406.5 341.6,406.4 342.0,406.4 342.4,405.7 342.8,404.5 343.2,403.7 343.6,404.0 344.0,404.8 344.4,404.9 344.8,406.0 345.2,407.4 345.6,410.9 346.0,412.4 346.4,415.2 346.8,415.5 347.2,418.3 347.6,418.0 348.0,420.6 348.4,419.8 348.8,421.7 349.2,420.1 349.6,421.5 350.0,419.9 350.4,421.3 350.8,419.7 351.2,424.1 351.6,421.9 352.0,426.3 352.4,423.0 352.8,425.7 353.2,421.3 353.6,423.6 354.0,421.3 354.4,422.6 354.8,422.1 355.2,424.9 355.6,425.7 356.0,428.1 356.4,428.0 356.8,428.9 357.2,427.6 357.6,428.5 358.0,428.0 358.4,429.8 358.8,430.5 359.2,431.8 359.6,432.2 360.0,432.2 360.4,432.3 360.8,432.3 361.2,432.6 361.6,433.2 362.0,433.9 362.4,434.8 362.8,436.2 363.2,437.5 363.6,438.5 364.0,438.9 364.4,439.4 364.8,439.9 365.2,440.4 365.6,440.9 366.0,438.9 366.4,436.9 366.8,434.9 367.2,435.4 367.6,436.7 368.0,437.7 368.4,437.9 368.8,438.1 369.2,438.3 369.6,437.5 370.0,436.6 370.4,435.7 370.8,434.9 371.2,434.1 371.6,433.4 372.0,433.1 372.4,432.7 372.8,432.4 373.2,432.1 373.6,432.3 374.0,432.6 374.4,432.9 374.8,432.9 375.2,432.9 375.6,432.9 376.0,433.5 376.4,434.1 376.8,433.7 377.2,432.0 377.6,430.4 378.0,431.2 378.4,432.2 378.8,433.2 379.2,434.0 379.6,434.5 380.0,434.9 380.4,435.4 380.8,434.8 381.2,433.7 381.6,432.5 382.0,431.6 382.4,432.9 382.8,434.3 383.2,435.7 383.6,435.8 384.0,435.7 384.4,435.7 384.8,435.6 385.2,436.0 385.6,436.3 386.0,436.6 386.4,437.1 386.8,438.3 387.2,439.5 387.6,440.7 388.0,441.9 388.4,443.0 388.8,444.1 389.2,445.2 389.6,445.3 390.0,445.2 390.4,445.1 390.8,444.8 391.2,445.5 391.6,447.0 392.0,448.5 392.4,448.3 392.8,447.5 393.2,447.1 393.6,447.6 394.0,448.1 394.4,448.8 394.8,449.5 395.2,450.1 395.6,450.8 396.0,451.2 396.4,451.6 396.8,451.9 397.2,452.1 397.6,452.2 398.0,452.2 398.4,452.3 398.8,452.5 399.2,453.5 399.6,454.5 400.0,455.2 400.4,455.1 400.8,454.9 401.2,454.8 401.6,454.6 402.0,455.2 402.4,456.1 402.8,456.9 403.2,457.6 403.6,457.4 404.0,457.2 404.4,457.5 404.8,458.6 405.2,459.7 405.6,460.5 406.0,460.8 406.4,461.1 406.8,461.5 407.2,462.6 407.6,463.7 408.0,464.8 408.4,465.3 408.8,464.9 409.2,464.5 409.6,464.2 410.0,464.3 410.4,465.6 410.8,466.9 411.2,468.0 411.6,468.2 412.0,467.7 412.4,467.3 412.8,467.6 413.2,467.9 413.6,468.2 414.0,468.5 414.4,467.4 414.8,466.3 415.2,466.0 415.6,466.5 416.0,467.0 416.4,467.5 416.8,467.7 417.2,467.7 417.6,467.7 418.0,467.7 418.4,467.6 418.8,467.5 419.2,467.4 419.6,467.5 420.0,467.9 420.4,468.3 420.8,468.6 421.2,468.9 421.6,468.6 422.0,468.3 422.4,468.0 422.8,467.8 423.2,467.9 423.6,468.0 424.0,468.1 424.4,468.0 424.8,467.6 425.2,467.1 425.6,466.6 426.0,466.6 426.4,466.6 426.8,466.6 427.2,466.5 427.6,466.3 428.0,466.1 428.4,466.0 428.8,465.8 429.2,465.6 429.6,465.3 430.0,465.5 430.4,465.9 430.8,466.3 431.2,466.7 431.6,446.4 432.0,452.6 432.4,399.0 432.4,469.0 432.7,369.8 433.0,469.0 432.8,453.9 433.2,395.2 433.2,469.0 433.5,369.8 433.8,469.0 433.6,453.7 434.0,395.7 434.4,462.9 434.8,424.7 435.2,467.7"/>
<polyline stroke="#f0f" stroke-width="3.2" points="269.2,405.7 269.6,433.8 270.0,396.4 270.4,433.4 270.8,389.7 271.2,436.1 271.6,393.6 272.0,434.8 272.4,394.0 272.8,432.4 273.2,398.7 273.6,436.9 274.0,393.4 274.4,428.2 274.8,393.4 275.2,423.8 275.6,394.8 276.0,439.1 276.4,392.8 276.8,440.7 277.2,391.3 277.6,440.4 278.0,393.1 278.4,437.8 278.8,390.5 279.2,429.2 279.6,390.3 280.0,428.4 280.4,391.5 280.8,436.1 281.2,388.5 281.6,434.3 282.0,390.1 282.4,427.1 282.8,385.9 283.2,417.7 283.6,384.2 284.0,416.4 284.4,382.6 284.8,414.8 285.2,373.9 285.6,414.2 286.0,373.9 286.4,412.1 286.8,376.4 287.2,412.5 287.6,378.5 288.0,414.6 288.4,378.5 288.8,414.5 289.2,378.0 289.6,412.2 290.0,383.9 290.4,398.5 290.8,381.9 291.2,388.5 291.6,381.4 292.0,388.9 292.4,381.6 292.8,388.4 293.2,379.4 293.6,389.8 294.0,381.5 294.4,391.1 294.8,384.2 295.2,390.6 295.6,383.9 296.0,391.9 296.4,384.7 296.8,389.4 297.2,382.7 297.6,385.9 298.0,381.2 298.4,385.3 298.8,384.8 299.2,388.3 299.6,386.1 300.0,386.6 300.4,384.6 300.8,384.7 301.2,382.9 301.6,382.7 302.0,381.3 302.4,381.1 302.8,379.8 303.2,379.1 303.6,377.8 304.0,376.8 304.4,375.3 304.8,373.8 305.2,372.2 305.6,370.3 306.0,367.9 306.4,365.3 306.8,363.8 307.2,363.0 307.6,362.2 308.0,360.3 308.4,358.3 308.8,356.7 309.2,355.8 309.6,355.0 310.0,354.1 310.4,352.9 310.8,351.2 311.2,349.6 311.6,348.1 312.0,346.7 312.4,345.4 312.8,344.6 313.2,344.3 313.6,343.9 314.0,343.5 314.4,342.0 314.8,339.9 315.2,337.8 315.6,335.7 316.0,334.0 316.4,332.5 316.8,331.0 317.2,329.5 317.6,328.3 318.0,327.5 318.4,326.6 318.8,325.7 319.2,325.0 319.6,324.7 320.0,324.4 320.4,324.1 320.8,322.6 321.2,320.7 321.6,318.8 322.0,316.9 322.4,315.6 322.8,315.2 323.2,314.7 323.6,314.2 324.0,313.8 324.4,312.9 324.8,314.3 325.2,315.7 325.6,317.1 326.0,317.7 326.4,317.8 326.8,317.8 327.2,317.9 327.6,320.2 328.0,322.5 328.4,324.9 328.8,327.5 329.2,330.1 329.6,332.0 330.0,333.9 330.4,335.8 330.8,338.2 331.2,341.0 331.6,343.8 332.0,346.7 332.4,349.2 332.8,351.7 333.2,354.1 333.6,356.3 334.0,357.9 334.4,359.4 334.8,360.9 335.2,362.5 335.6,364.6 336.0,366.8 336.4,369.0 336.8,371.0 337.2,372.9 337.6,374.7 338.0,376.6 338.4,379.1 338.8,380.7 339.2,382.3 339.6,384.1 340.0,385.9 340.4,387.7 340.8,389.4 341.2,390.5 341.6,391.5 342.0,392.8 342.4,395.4 342.8,397.9 343.2,398.5 343.6,398.5 344.0,398.5 344.4,398.2 344.8,397.1 345.2,395.9 345.6,395.2 346.0,395.4 346.4,395.5 346.8,395.6 347.2,395.9 347.6,396.1 348.0,396.3 348.4,396.6 348.8,398.1 349.2,399.7 349.6,401.9 350.0,402.4 350.4,402.9 350.8,402.7 351.2,403.1 351.6,402.7 352.0,402.6 352.4,401.8 352.8,401.8 353.2,401.5 353.6,403.1 354.0,404.0 354.4,405.6 354.8,407.0 355.2,409.1 355.6,410.7 356.0,412.9 356.4,411.9 356.8,411.2 357.2,410.1 357.6,409.4 358.0,408.5 358.4,408.2 358.8,407.5 359.2,407.9 359.6,409.7 360.0,411.6 360.4,413.5 360.8,415.3 361.2,415.8 361.6,416.2 362.0,416.6 362.4,416.6 362.8,416.4 363.2,416.2 363.6,416.8 364.0,417.7 364.4,418.5 364.8,419.0 365.2,419.3 365.6,419.4 366.0,419.7 366.4,420.2 366.8,420.7 367.2,421.1 367.6,420.4 368.0,419.1 368.4,417.9 368.8,417.5 369.2,417.8 369.6,417.5 370.0,417.5 370.4,417.7 370.8,417.9 371.2,417.8 371.6,417.0 372.0,416.2 372.4,415.4 372.8,415.4 373.2,415.9 373.6,416.6 374.0,416.8 374.4,417.0 374.8,416.8 375.2,417.3 375.6,416.0 376.0,414.6 376.4,412.8 376.8,411.7 377.2,411.7 377.6,412.3 378.0,412.2 378.4,411.7 378.8,410.7 379.2,410.4 379.6,409.8 380.0,409.7 380.4,409.0 380.8,409.2 381.2,409.3 381.6,410.6 382.0,410.6 382.4,411.4 382.8,411.0 383.2,411.8 383.6,411.1 384.0,411.8 384.4,410.5 384.8,410.7 385.2,409.5 385.6,409.9 386.0,408.9 386.4,409.4 386.8,410.2 387.2,412.6 387.6,414.2 388.0,415.0 388.4,412.5 388.8,411.3 389.2,409.0 389.6,410.3 390.0,410.1 390.4,411.8 390.8,412.6 391.2,414.7 391.6,413.5 392.0,413.2 392.4,411.4 392.8,411.4 393.2,413.0 393.6,416.1 394.0,417.7 394.4,417.9 394.8,414.3 395.2,412.5 395.6,411.2 396.0,415.0 396.4,416.9 396.8,420.4 397.2,419.4 397.6,420.3 398.0,419.4 398.4,420.2 398.8,419.1 399.2,420.0 399.6,418.7 400.0,419.4 400.4,418.2 400.8,419.4 401.2,418.9 401.6,420.0 402.0,419.5 402.4,420.0 402.8,419.2 403.2,419.5 403.6,419.0 404.0,420.2 404.4,420.7 404.8,421.8 405.2,422.3 405.6,423.9 406.0,423.9 406.4,426.3 406.8,423.6 407.2,428.2 407.6,423.3 408.0,430.6 408.4,422.7 408.8,434.9 409.2,424.6 409.6,438.1 410.0,424.8 410.4,441.9 410.8,426.2 411.2,442.4 411.6,428.6 412.0,448.4 412.4,428.9 412.8,446.9 413.2,428.9 413.6,446.7 414.0,426.1 414.4,445.5 414.8,424.5 415.2,447.1 415.6,425.8 416.0,450.3 416.4,423.8 416.8,452.1 417.2,424.0 417.6,454.7 418.0,425.0 418.4,458.6 418.8,435.2 419.2,450.2 419.6,435.9 420.0,450.8 420.4,437.4 420.8,455.3 421.2,437.3 421.6,455.6 422.0,440.4 422.4,468.2 422.8,436.8 423.2,466.0 423.6,438.2 424.0,465.3 424.4,392.4 424.8,464.6 425.2,385.4 425.0,469.0 425.3,359.9 425.6,469.0 425.6,464.1 426.0,396.2 425.8,469.0 426.1,359.9 426.4,469.0 426.4,464.9 426.8,394.5 427.2,465.0 427.6,441.9 428.0,466.5 428.4,443.5 428.8,467.1 429.2,437.5 429.6,468.1 430.0,437.5 430.4,468.6 430.8,436.8 431.2,467.4 431.6,446.7 432.0,466.3 432.4,447.7 432.8,466.5 433.2,446.0 433.6,467.5 434.0,447.8 434.4,458.7 434.8,413.4 435.2,452.2 435.6,404.4 436.0,454.1 436.4,406.7"/>
<polyline stroke="#f00" stroke-width="3.2" points="262.8,61.8 263.2,373.3 263.6,62.4 264.0,381.7 264.4,63.8 264.8,366.7 265.2,72.6 265.6,391.4 266.0,110.4 266.4,399.5 266.8,152.3 267.2,396.6 267.6,197.8 268.0,346.9 268.4,253.9 268.8,366.2 269.2,322.6 269.6,379.1 270.0,325.2 270.4,397.0 270.8,329.1 271.2,393.1 271.6,327.9 272.0,383.2 272.4,330.7 272.8,353.8 273.2,324.3 273.6,352.1 274.0,323.3 274.4,350.9 274.8,325.4 275.2,349.5 275.6,324.6 276.0,351.9 276.4,323.7 276.8,349.2 277.2,322.6 277.6,345.9 278.0,320.9 278.4,347.4 278.8,320.7 279.2,347.0 279.6,318.4 280.0,343.4 280.4,318.2 280.8,341.1 281.2,317.1 281.6,340.2 282.0,320.1 282.4,343.8 282.8,320.1 283.2,345.5 283.6,321.0 284.0,344.2 284.4,319.9 284.8,345.6 285.2,322.1 285.6,341.8 286.0,318.6 286.4,343.0 286.8,319.9 287.2,341.9 287.6,317.6 288.0,343.2 288.4,314.3 288.8,342.4 289.2,315.9 289.6,344.3 290.0,315.2 290.4,345.0 290.8,315.6 291.2,345.0 291.6,320.8 292.0,344.1 292.4,321.5 292.8,343.5 293.2,323.2 293.6,341.2 294.0,316.9 294.4,346.8 294.8,317.6 295.2,341.5 295.6,316.8 296.0,336.3 296.4,317.9 296.8,333.3 297.2,320.7 297.6,334.8 298.0,325.3 298.4,335.2 298.8,329.4 299.2,335.3 299.6,331.0 300.0,333.2 300.4,331.4 300.8,331.6 301.2,330.4 301.6,331.1 302.0,330.1 302.4,330.5 302.8,328.6 303.2,327.7 303.6,325.9 304.0,325.6 304.4,325.0 304.8,324.5 305.2,322.7 305.6,320.3 306.0,318.3 306.4,317.9 306.8,317.6 307.2,317.1 307.6,316.1 308.0,315.2 308.4,314.5 308.8,314.7 309.2,315.0 309.6,315.2 310.0,315.1 310.4,315.0 310.8,314.9 311.2,314.0 311.6,313.0 312.0,312.0 312.4,311.0 312.8,310.8 313.2,311.0 313.6,311.2 314.0,310.6 314.4,309.2 314.8,308.8 315.2,309.2 315.6,309.6 316.0,310.1 316.4,310.8 316.8,312.9 317.2,315.1 317.6,316.9 318.0,317.9 318.4,319.3 318.8,320.6 319.2,320.6 319.6,320.7 320.0,320.7 320.4,322.0 320.8,324.0 321.2,325.9 321.6,327.9 322.0,329.0 322.4,330.1 322.8,331.1 323.2,332.3 323.6,333.6 324.0,334.8 324.4,336.1 324.8,337.7 325.2,339.5 325.6,341.4 326.0,343.6 326.4,345.7 326.8,347.4 327.2,349.1 327.6,350.8 328.0,353.0 328.4,355.3 328.8,357.6 329.2,359.9 329.6,362.0 330.0,364.0 330.4,366.0 330.8,368.1 331.2,369.8 331.6,371.0 332.0,372.2 332.4,373.3 332.8,374.8 333.2,377.3 333.6,379.9 334.0,382.7 334.4,385.5 334.8,388.2 335.2,391.0 335.6,393.8 336.0,394.0 336.4,394.2 336.8,394.3 337.2,395.2 337.6,396.0 338.0,396.8 338.4,398.7 338.8,400.0 339.2,402.4 339.6,402.8 340.0,406.3 340.4,404.1 340.8,409.5 341.2,404.5 341.6,411.7 342.0,403.2 342.4,415.8 342.8,397.8 343.2,420.3 343.6,398.1 344.0,423.0 344.4,402.1 344.8,422.2 345.2,401.9 345.6,423.6 346.0,402.1 346.4,426.4 346.8,402.5 347.2,426.7 347.6,401.9 348.0,420.0 348.4,403.1 348.8,420.7 349.2,402.1 349.6,423.0 350.0,404.3 350.4,429.6 350.8,400.6 351.2,430.5 351.6,399.3 352.0,431.7 352.4,401.5 352.8,431.3 353.2,401.1 353.6,423.9 354.0,405.6 354.4,424.6 354.8,407.3 355.2,427.1 355.6,407.6 356.0,428.7 356.4,409.5 356.8,428.3 357.2,407.5 357.6,430.5 358.0,410.9 358.4,427.9 358.8,405.9 359.2,431.0 359.6,407.6 360.0,429.9 360.4,408.1 360.8,432.0 361.2,412.5 361.6,433.8 362.0,415.9 362.4,432.4 362.8,420.3 363.2,431.6 363.6,428.6 364.0,435.5 364.4,433.2 364.8,436.5 365.2,433.9 365.6,436.2 366.0,434.2 366.4,435.7 366.8,434.2 367.2,435.0 367.6,433.7 368.0,433.8 368.4,432.9 368.8,432.8 369.2,432.3 369.6,432.0 370.0,431.6 370.4,430.8 370.8,429.9 371.2,429.1 371.6,429.4 372.0,430.1 372.4,430.7 372.8,431.3 373.2,430.4 373.6,429.4 374.0,428.5 374.4,427.0 374.8,425.1 375.2,423.3 375.6,422.2 376.0,422.9 376.4,423.7 376.8,424.4 377.2,424.8 377.6,424.8 378.0,424.8 378.4,424.8 378.8,426.0 379.2,427.3 379.6,428.6 380.0,427.4 380.4,426.1 380.8,425.1 381.2,426.6 381.6,428.0 382.0,429.5 382.4,430.2 382.8,430.7 383.2,431.2 383.6,432.1 384.0,432.5 384.4,432.7 384.8,433.0 385.2,433.2 385.6,433.1 386.0,432.5 386.4,431.9 386.8,432.0 387.2,433.2 387.6,434.4 388.0,435.7 388.4,435.5 388.8,434.9 389.2,434.6 389.6,435.7 390.0,436.8 390.4,437.7 390.8,438.0 391.2,438.2 391.6,439.1 392.0,440.5 392.4,441.8 392.8,443.1 393.2,442.2 393.6,441.2 394.0,440.2 394.4,441.1 394.8,442.3 395.2,443.6 395.6,444.4 396.0,444.1 396.4,443.8 396.8,443.7 397.2,443.9 397.6,444.0 398.0,444.1 398.4,444.2 398.8,444.2 399.2,444.3 399.6,444.4 400.0,444.7 400.4,445.1 400.8,445.1 401.2,445.0 401.6,445.2 402.0,446.2 402.4,447.2 402.8,448.3 403.2,449.2 403.6,450.2 404.0,450.9 404.4,451.0 404.8,451.1 405.2,451.3 405.6,451.6 406.0,451.9 406.4,452.3 406.8,453.4 407.2,454.6 407.6,455.8 408.0,457.0 408.4,459.0 408.8,461.2 409.2,463.4 409.6,464.8 410.0,465.0 410.4,465.2 410.8,465.5 411.2,466.1 411.6,466.7 412.0,467.3 412.4,467.8 412.8,467.7 413.2,467.6 413.6,467.4 414.0,467.2 414.4,467.1 414.8,466.9 415.2,467.2 415.6,467.8 416.0,468.4 416.4,467.9 416.8,467.4 417.2,466.9 417.6,467.1 418.0,467.3 418.4,467.5 418.8,467.4 419.2,467.4 419.6,467.4 420.0,467.6 420.4,467.9 420.8,468.1 421.2,467.9 421.6,467.5 422.0,467.2 422.4,467.8 422.8,468.4 423.2,468.7 423.6,468.2 424.0,467.7 424.4,467.4 424.8,467.5 425.2,467.7 425.6,467.8 426.0,467.9 426.4,468.0 426.8,467.9 427.2,467.8 427.6,467.6 428.0,467.5 428.4,467.6 428.8,468.0 429.2,468.4 429.6,468.8 430.0,468.5 430.4,468.1 430.8,467.7 431.2,468.0 431.6,468.5 432.0,468.8 432.4,468.4 432.8,467.9 433.2,461.5 433.6,465.5 434.0,423.2 434.4,464.1 434.8,422.1 435.2,453.9 435.6,426.8 436.0,457.7 436.4,454.8"/>
<rect x="263.4" y="11.0" width="2.9" height="458.0" fill="#f00" stroke="none"/>
<rect x="266.3" y="11.0" width="1.7" height="229.0" fill="#000" stroke="none"/>
<rect x="268.0" y="232.0" width="1.8" height="64.0" fill="#000" stroke="none"/>
</g>
<g clip-path="url(#c2)" fill="none" stroke-linejoin="round" stroke-linecap="round">
<polyline stroke="#f0f" stroke-width="3.2" points="441.0,417.8 441.4,461.1 441.8,413.3 442.2,451.5 442.6,409.8 443.0,448.1 443.4,406.9 443.8,442.0 444.2,393.8 444.6,426.1 445.0,389.8 445.4,420.7 445.8,387.9 446.2,426.5 446.6,379.7 447.0,422.9 447.4,376.6 447.8,420.7 448.2,377.6 448.6,417.1 449.0,375.2 449.4,414.9 449.8,376.6 450.2,412.2 450.6,375.4 451.0,408.1 451.4,373.8 451.8,397.5 452.2,373.4 452.6,397.1 453.0,372.0 453.4,398.1 453.8,375.5 454.2,389.9 454.6,366.1 455.0,376.0 455.4,356.7 455.8,361.7 456.2,349.7 456.6,350.7 457.0,345.8 457.4,347.0 457.8,338.9 458.2,339.2 458.6,334.4 459.0,339.5 459.4,336.1 459.8,341.5 460.2,336.9 460.6,341.6 461.0,335.9 461.4,341.3 461.8,331.4 462.2,338.9 462.6,326.0 463.0,336.8 463.4,324.1 463.8,336.7 464.2,322.5 464.6,334.4 465.0,321.2 465.4,327.7 465.8,317.9 466.2,324.7 466.6,316.1 467.0,322.2 467.4,313.1 467.8,319.3 468.2,309.1 468.6,315.8 469.0,307.4 469.4,314.7 469.8,305.1 470.2,311.4 470.6,301.4 471.0,308.2 471.4,300.8 471.8,306.9 472.2,301.0 472.6,305.7 473.0,301.1 473.4,303.6 473.8,299.9 474.2,300.9 474.6,298.2 475.0,298.1 475.4,296.1 475.8,294.8 476.2,293.6 476.6,292.7 477.0,291.8 477.4,290.9 477.8,288.8 478.2,286.8 478.6,284.8 479.0,282.8 479.4,282.2 479.8,282.1 480.2,282.1 480.6,280.5 481.0,278.2 481.4,275.9 481.8,274.7 482.2,274.3 482.6,273.8 483.0,273.4 483.4,272.8 483.8,272.2 484.2,271.5 484.6,270.7 485.0,269.5 485.4,268.0 485.8,266.6 486.2,264.4 486.6,262.0 487.0,259.6 487.4,257.9 487.8,256.4 488.2,254.9 488.6,253.4 489.0,252.0 489.4,250.8 489.8,249.5 490.2,248.2 490.6,247.1 491.0,245.3 491.4,243.5 491.8,241.8 492.2,240.1 492.6,238.4 493.0,236.8 493.4,235.5 493.8,234.3 494.2,232.6 494.6,230.0 495.0,227.5 495.4,224.8 495.8,221.8 496.2,218.5 496.6,216.6 497.0,214.4 497.4,212.4 497.8,210.7 498.2,209.1 498.6,213.2 499.0,218.2 499.4,223.3 499.8,228.3 500.2,231.2 500.6,231.6 501.0,232.3 501.4,233.1 501.8,238.3 502.2,246.1 502.6,252.5 503.0,258.9 503.4,265.3 503.8,271.9 504.2,278.5 504.6,285.1 505.0,290.4 505.4,292.4 505.8,294.3 506.2,296.6 506.6,299.4 507.0,302.4 507.4,305.3 507.8,308.4 508.2,309.8 508.6,312.5 509.0,313.3 509.4,316.5 509.8,318.1 510.2,323.4 510.6,324.8 511.0,329.8 511.4,326.7 511.8,330.6 512.2,328.2 512.6,332.9 513.0,331.9 513.4,335.4 513.8,334.7 514.2,337.4 514.6,337.0 515.0,339.9 515.4,338.9 515.8,340.7 516.2,344.4 516.6,356.6 517.0,357.9 517.4,369.7 517.8,368.5 518.2,377.5 518.6,378.4 519.0,383.7 519.4,384.5 519.8,386.3 520.2,385.8 520.6,387.0 521.0,389.6 521.4,393.0 521.8,395.7 522.2,398.7 522.6,395.4 523.0,396.5 523.4,386.2 523.8,394.0 524.2,376.4 524.6,392.7 525.0,367.1 525.4,401.1 525.8,371.3 526.2,404.7 526.6,375.1 527.0,405.1 527.4,381.7 527.8,406.1 528.2,385.7 528.6,406.2 529.0,387.4 529.4,410.4 529.8,392.5 530.2,411.4 530.6,392.0 531.0,414.0 531.4,395.4 531.8,416.0 532.2,400.1 532.6,420.3 533.0,404.4 533.4,426.2 533.8,412.6 534.2,428.9 534.6,416.9 535.0,429.0 535.4,420.0 535.8,429.5 536.2,424.9 536.6,432.9 537.0,430.7 537.4,436.0 537.8,434.0 538.2,437.2 538.6,436.5 539.0,439.0 539.4,439.9 539.8,441.6 540.2,442.6 540.6,442.5 541.0,441.7 541.4,440.8 541.8,440.1 542.2,440.7 542.6,441.2 543.0,441.5 543.4,441.4 543.8,441.4 544.2,441.4 544.6,441.6 545.0,443.0 545.4,444.5 545.8,446.0 546.2,447.6 546.6,447.6 547.0,447.3 547.4,446.7 547.8,445.1 548.2,443.5 548.6,444.2 549.0,446.5 549.4,448.8 549.8,450.7 550.2,450.2 550.6,449.7 551.0,449.2 551.4,448.8 551.8,449.6 552.2,450.3 552.6,451.0 553.0,451.7 553.4,452.2 553.8,452.7 554.2,453.1 554.6,453.2 555.0,453.2 555.4,453.4 555.8,454.1 556.2,454.4 556.6,454.4 557.0,454.9 557.4,455.5 557.8,456.2 558.2,456.8 558.6,457.2 559.0,457.5 559.4,457.7 559.8,458.0 560.2,457.7 560.6,456.9 561.0,456.2 561.4,455.5 561.8,455.8 562.2,457.0 562.6,458.2 563.0,457.9 563.4,457.5 563.8,457.2 564.2,457.0 564.6,456.9 565.0,456.8 565.4,456.8 565.8,456.6 566.2,456.3 566.6,455.8 567.0,455.2 567.4,454.5 567.8,453.6 568.2,452.4 568.6,451.1 569.0,449.9 569.4,449.3 569.8,449.6 570.2,449.9 570.6,450.2 571.0,449.7 571.4,448.9 571.8,448.0 572.2,447.5 572.6,448.0 573.0,448.6 573.4,449.1 573.8,449.5 574.2,449.6 574.6,449.6 575.0,449.4 575.4,447.5 575.8,445.6 576.2,443.8 576.6,443.1 577.0,442.6 577.4,442.0 577.8,442.0 578.2,442.4 578.6,442.7 579.0,443.7 579.4,444.8 579.8,446.0 580.2,447.1 580.6,446.1 581.0,444.1 581.4,442.1 581.8,443.0 582.2,444.2 582.6,445.4 583.0,446.2 583.4,444.5 583.8,442.9 584.2,441.1 584.6,440.2 585.0,440.1 585.4,440.1 585.8,440.2 586.2,441.5 586.6,442.3 587.0,443.6 587.4,442.1 587.8,440.4 588.2,438.2 588.6,436.4 589.0,435.3 589.4,436.8 589.8,436.1 590.2,439.4 590.6,436.4 591.0,443.9 591.4,432.1 591.8,449.0 592.2,430.6 592.6,450.7 593.0,429.4 593.4,447.8 593.8,427.4 594.2,448.1 594.6,424.6 595.0,446.3 595.4,418.5 595.8,453.2 596.2,411.7 596.6,449.0 597.0,404.5 597.4,443.9 597.8,398.8 598.2,441.0 598.6,390.6 599.0,421.2 599.4,387.3 599.8,420.6 600.2,398.0 600.6,423.6"/>
<polyline stroke="#00f" stroke-width="3.2" points="441.0,188.3 441.4,418.0 441.8,220.3 442.2,405.9 442.6,235.0 443.0,405.8 443.4,272.9 443.8,384.0 444.2,337.0 444.6,392.0 445.0,354.1 445.4,395.6 445.8,370.6 446.2,395.7 446.6,366.2 447.0,396.1 447.4,366.1 447.8,398.2 448.2,367.2 448.6,395.9 449.0,369.2 449.4,393.9 449.8,370.9 450.2,402.1 450.6,379.1 451.0,401.5 451.4,379.1 451.8,397.9 452.2,380.6 452.6,395.2 453.0,380.0 453.4,393.4 453.8,381.6 454.2,391.7 454.6,380.1 455.0,390.0 455.4,378.0 455.8,385.8 456.2,373.9 456.6,381.3 457.0,368.3 457.4,374.8 457.8,366.8 458.2,374.8 458.6,365.9 459.0,372.8 459.4,361.9 459.8,368.9 460.2,357.8 460.6,368.3 461.0,353.5 461.4,367.7 461.8,351.0 462.2,366.2 462.6,349.2 463.0,364.8 463.4,347.4 463.8,363.4 464.2,344.6 464.6,362.1 465.0,340.9 465.4,360.0 465.8,336.2 466.2,359.2 466.6,336.5 467.0,356.4 467.4,331.1 467.8,351.7 468.2,328.1 468.6,350.2 469.0,321.2 469.4,338.0 469.8,319.0 470.2,333.8 470.6,315.4 471.0,337.2 471.4,318.1 471.8,332.6 472.2,315.2 472.6,327.7 473.0,313.3 473.4,323.3 473.8,307.3 474.2,317.5 474.6,305.4 475.0,312.9 475.4,302.9 475.8,311.6 476.2,304.2 476.6,306.3 477.0,297.6 477.4,297.1 477.8,293.9 478.2,291.9 478.6,289.2 479.0,285.3 479.4,280.9 479.8,276.4 480.2,272.1 480.6,269.3 481.0,267.3 481.4,265.3 481.8,263.2 482.2,261.3 482.6,259.4 483.0,257.6 483.4,255.7 483.8,253.2 484.2,250.1 484.6,247.1 485.0,244.1 485.4,242.0 485.8,240.9 486.2,239.7 486.6,238.5 487.0,237.3 487.4,236.0 487.8,234.8 488.2,233.5 488.6,231.3 489.0,229.0 489.4,226.8 489.8,225.5 490.2,225.8 490.6,228.9 491.0,232.0 491.4,234.4 491.8,236.4 492.2,238.4 492.6,240.3 493.0,242.3 493.4,244.6 493.8,247.7 494.2,251.6 494.6,255.7 495.0,259.3 495.4,262.9 495.8,266.4 496.2,270.0 496.6,273.6 497.0,277.2 497.4,280.8 497.8,284.3 498.2,287.3 498.6,290.3 499.0,294.1 499.4,298.4 499.8,304.2 500.2,310.7 500.6,317.1 501.0,322.3 501.4,327.3 501.8,332.3 502.2,337.3 502.6,342.2 503.0,347.1 503.4,352.0 503.8,355.8 504.2,358.5 504.6,361.3 505.0,364.0 505.4,366.5 505.8,367.1 506.2,368.8 506.6,368.1 507.0,370.8 507.4,370.4 507.8,376.5 508.2,373.1 508.6,381.0 509.0,375.1 509.4,386.4 509.8,375.9 510.2,390.6 510.6,372.4 511.0,390.9 511.4,370.5 511.8,394.3 512.2,368.8 512.6,395.7 513.0,369.0 513.4,398.8 513.8,366.4 514.2,399.5 514.6,367.7 515.0,399.8 515.4,368.6 515.8,399.6 516.2,368.5 516.6,399.9 517.0,371.2 517.4,397.7 517.8,383.5 518.2,398.7 518.6,385.7 519.0,401.1 519.4,387.6 519.8,403.5 520.2,386.0 520.6,401.5 521.0,389.6 521.4,403.6 521.8,392.6 522.2,409.7 522.6,398.5 523.0,412.2 523.4,393.6 523.8,415.5 524.2,388.5 524.6,407.5 525.0,377.7 525.4,406.9 525.8,385.0 526.2,412.8 526.6,390.2 527.0,425.7 527.4,398.9 527.8,429.5 528.2,405.6 528.6,429.2 529.0,408.1 529.4,429.4 529.8,406.9 530.2,430.2 530.6,410.9 531.0,429.7 531.4,413.3 531.8,429.6 532.2,415.2 532.6,429.4 533.0,418.4 533.4,429.0 533.8,420.2 534.2,430.8 534.6,422.8 535.0,430.5 535.4,424.8 535.8,427.2 536.2,424.4 536.6,427.3 537.0,429.3 537.4,434.0 537.8,435.0 538.2,436.2 538.6,436.2 539.0,436.8 539.4,436.8 539.8,436.3 540.2,435.9 540.6,435.7 541.0,436.5 541.4,438.0 541.8,439.4 542.2,438.7 542.6,437.7 543.0,436.7 543.4,436.3 543.8,437.4 544.2,438.4 544.6,439.5 545.0,439.9 545.4,440.1 545.8,440.2 546.2,440.3 546.6,440.4 547.0,440.3 547.4,440.3 547.8,440.5 548.2,441.0 548.6,441.4 549.0,441.9 549.4,442.2 549.8,441.3 550.2,440.4 550.6,439.6 551.0,440.0 551.4,440.4 551.8,440.8 552.2,441.4 552.6,442.8 553.0,444.4 553.4,446.8 553.8,445.7 554.2,444.4 554.6,443.1 555.0,444.5 555.4,446.7 555.8,448.9 556.2,450.8 556.6,451.8 557.0,452.1 557.4,452.5 557.8,453.4 558.2,454.9 558.6,456.4 559.0,457.3 559.4,458.0 559.8,458.7 560.2,459.5 560.6,460.5 561.0,461.5 561.4,462.0 561.8,462.0 562.2,461.5 562.6,461.1 563.0,460.7 563.4,460.5 563.8,460.4 564.2,460.2 564.6,460.1 565.0,460.1 565.4,460.2 565.8,460.1 566.2,459.9 566.6,459.6 567.0,459.4 567.4,459.1 567.8,459.6 568.2,460.1 568.6,460.5 569.0,460.2 569.4,460.0 569.8,460.0 570.2,460.6 570.6,461.3 571.0,461.9 571.4,462.5 571.8,461.8 572.2,460.8 572.6,459.8 573.0,458.9 573.4,458.4 573.8,457.8 574.2,457.5 574.6,457.7 575.0,458.0 575.4,458.2 575.8,458.2 576.2,458.3 576.6,458.4 577.0,458.5 577.4,458.5 577.8,458.5 578.2,458.4 578.6,458.1 579.0,457.7 579.4,457.3 579.8,457.8 580.2,459.1 580.6,460.3 581.0,460.9 581.4,460.1 581.8,459.2 582.2,458.3 582.6,458.1 583.0,457.9 583.4,457.7 583.8,457.6 584.2,457.5 584.6,457.5 585.0,457.9 585.4,458.3 585.8,458.8 586.2,457.6 586.6,455.9 587.0,454.3 587.4,453.8 587.8,453.7 588.2,453.5 588.6,453.6 589.0,454.2 589.4,454.9 589.8,455.6 590.2,457.0 590.6,458.0 591.0,459.8 591.4,459.8 591.8,458.8 592.2,455.9 592.6,455.9 593.0,454.3 593.4,455.2 593.8,453.2 594.2,455.5 594.6,454.2 595.0,456.1 595.4,455.0 595.8,456.6 596.2,454.8 596.6,457.7"/>
<polyline stroke="#f00" stroke-width="3.2" points="438.4,106.9 438.8,444.0 439.2,113.2 439.6,433.0 440.0,100.2 440.4,435.2 440.8,104.9 441.2,450.0 441.6,85.6 442.0,408.2 442.4,90.0 442.8,396.5 443.2,183.5 443.6,418.9 444.0,248.3 444.4,412.5 444.8,314.0 445.2,406.6 445.6,334.6 446.0,396.0 446.4,352.8 446.8,405.1 447.2,347.8 447.6,402.4 448.0,349.8 448.4,398.0 448.8,347.6 449.2,393.0 449.6,341.2 450.0,389.9 450.4,341.8 450.8,389.4 451.2,341.0 451.6,386.2 452.0,342.3 452.4,380.7 452.8,342.9 453.2,372.5 453.6,340.0 454.0,369.6 454.4,342.9 454.8,367.9 455.2,342.3 455.6,362.2 456.0,340.8 456.4,359.4 456.8,340.4 457.2,356.0 457.6,337.7 458.0,352.0 458.4,341.2 458.8,354.2 459.2,339.0 459.6,346.9 460.0,335.2 460.4,338.8 460.8,329.5 461.2,326.8 461.6,321.9 462.0,319.7 462.4,317.3 462.8,315.2 463.2,313.6 463.6,312.2 464.0,310.6 464.4,308.7 464.8,306.7 465.2,304.7 465.6,301.7 466.0,298.8 466.4,295.9 466.8,293.0 467.2,291.2 467.6,289.8 468.0,286.8 468.4,282.4 468.8,277.7 469.2,272.4 469.6,267.0 470.0,261.7 470.4,256.4 470.8,251.8 471.2,247.9 471.6,246.3 472.0,244.7 472.4,243.1 472.8,241.5 473.2,239.9 473.6,237.8 474.0,235.8 474.4,232.7 474.8,228.9 475.2,224.2 475.6,218.9 476.0,213.5 476.4,209.7 476.8,206.0 477.2,202.2 477.6,201.6 478.0,201.3 478.4,201.0 478.8,201.7 479.2,202.7 479.6,203.4 480.0,204.1 480.4,204.7 480.8,208.4 481.2,214.0 481.6,219.6 482.0,225.2 482.4,229.8 482.8,232.7 483.2,236.2 483.6,240.2 484.0,245.1 484.4,250.1 484.8,255.4 485.2,261.7 485.6,268.0 486.0,274.3 486.4,279.4 486.8,284.5 487.2,289.3 487.6,293.1 488.0,296.0 488.4,299.3 488.8,303.3 489.2,307.4 489.6,311.4 490.0,315.4 490.4,319.4 490.8,323.3 491.2,327.3 491.6,331.1 492.0,334.6 492.4,338.0 492.8,341.4 493.2,344.9 493.6,348.4 494.0,351.3 494.4,353.5 494.8,355.7 495.2,357.8 495.6,360.0 496.0,362.2 496.4,364.4 496.8,367.8 497.2,371.2 497.6,374.6 498.0,378.0 498.4,379.7 498.8,381.1 499.2,382.5 499.6,383.9 500.0,385.0 500.4,386.1 500.8,387.2 501.2,388.3 501.6,389.8 502.0,391.2 502.4,392.6 502.8,394.1 503.2,395.4 503.6,396.8 504.0,398.2 504.4,399.6 504.8,401.1 505.2,402.6 505.6,404.7 506.0,406.8 506.4,408.7 506.8,410.0 507.2,410.9 507.6,411.7 508.0,411.6 508.4,411.7 508.8,410.5 509.2,412.0 509.6,408.8 510.0,412.4 510.4,408.5 510.8,415.9 511.2,408.9 511.6,418.6 512.0,406.1 512.4,420.2 512.8,409.9 513.2,423.2 513.6,410.8 514.0,421.3 514.4,415.9 514.8,421.9 515.2,415.6 515.6,422.7 516.0,415.8 516.4,428.9 516.8,416.7 517.2,429.3 517.6,417.6 518.0,430.6 518.4,418.3 518.8,433.7 519.2,409.8 519.6,437.2 520.0,410.1 520.4,437.4 520.8,410.8 521.2,435.8 521.6,410.2 522.0,427.5 522.4,414.8 522.8,426.4 523.2,413.9 523.6,433.2 524.0,409.5 524.4,428.6 524.8,407.2 525.2,427.1 525.6,403.9 526.0,425.1 526.4,405.6 526.8,424.0 527.2,416.6 527.6,425.9 528.0,426.6 528.4,429.5 528.8,429.4 529.2,432.1 529.6,430.7 530.0,430.2 530.4,428.2 530.8,430.3 531.2,431.2 531.6,433.0 532.0,435.0 532.4,437.2 532.8,439.3 533.2,441.2 533.6,442.6 534.0,443.9 534.4,445.3 534.8,446.4 535.2,447.4 535.6,448.5 536.0,449.6 536.4,450.5 536.8,451.4 537.2,452.3 537.6,453.0 538.0,453.7 538.4,454.5 538.8,454.4 539.2,454.1 539.6,453.8 540.0,453.4 540.4,452.0 540.8,450.7 541.2,450.2 541.6,450.2 542.0,451.1 542.4,450.9 542.8,452.3 543.2,451.9 543.6,453.6 544.0,453.2 544.4,453.6 544.8,453.0 545.2,453.1 545.6,451.9 546.0,450.0 546.4,448.0 546.8,446.2 547.2,445.7 547.6,446.3 548.0,446.8 548.4,447.5 548.8,448.3 549.2,448.0 549.6,447.8 550.0,447.5 550.4,447.3 550.8,447.4 551.2,447.6 551.6,447.7 552.0,447.6 552.4,447.2 552.8,446.8 553.2,447.6 553.6,448.8 554.0,450.3 554.4,451.9 554.8,453.6 555.2,454.4 555.6,454.8 556.0,455.2 556.4,456.4 556.8,457.5 557.2,458.6 557.6,458.9 558.0,459.1 558.4,459.5 558.8,460.6 559.2,461.7 559.6,462.8 560.0,463.6 560.4,464.2 560.8,464.7 561.2,465.2 561.6,465.5 562.0,465.9 562.4,466.2 562.8,466.5 563.2,466.2 563.6,465.9 564.0,465.6 564.4,465.4 564.8,466.1 565.2,466.8 565.6,467.5 566.0,468.2 566.4,468.7 566.8,468.8 567.2,468.9 567.6,468.5 568.0,467.4 568.4,466.4 568.8,466.2 569.2,466.4 569.6,466.5 570.0,466.7 570.4,467.1 570.8,467.5 571.2,467.9 571.6,467.3 572.0,466.7 572.4,466.2 572.8,465.8 573.2,465.6 573.6,465.4 574.0,465.1 574.4,465.6 574.8,466.1 575.2,466.6 575.6,466.9 576.0,466.5 576.4,466.2 576.8,465.8 577.2,465.9 577.6,466.4 578.0,466.8 578.4,467.2 578.8,467.5 579.2,467.6 579.6,467.7 580.0,467.8 580.4,467.9 580.8,468.2 581.2,468.4 581.6,468.7 582.0,468.6 582.4,468.1 582.8,467.6 583.2,467.0 583.6,466.5 584.0,466.5 584.4,466.4 584.8,466.6 585.2,467.2 585.6,467.8 586.0,468.3 586.4,468.4 586.8,468.5 587.2,468.4 587.6,467.9 588.0,467.5 588.4,467.0 588.8,466.8 589.2,466.5 589.6,466.3 590.0,466.6 590.4,467.0 590.8,467.4 591.2,467.5 591.6,467.3 592.0,467.1 592.4,466.9 592.8,466.9 593.2,467.4 593.6,467.8 594.0,468.2 594.4,467.5 594.8,466.7 595.2,465.9 595.6,465.6 596.0,466.1 596.4,466.5 596.8,467.0 597.2,467.3 597.6,467.5 598.0,467.8 598.4,468.1 598.8,468.4 599.2,468.7 599.6,468.9 600.0,466.2 600.4,466.4 600.8,454.1 601.2,468.0 601.6,453.2"/>
<polyline stroke="#000" stroke-width="3.2" points="438.9,350.0 439.3,349.7 439.7,349.5 440.1,349.3 440.5,349.0 440.9,349.9 441.3,351.4 441.7,353.0 442.1,351.2 442.5,348.8 442.9,346.7 443.3,347.5 443.7,347.7 444.1,348.9 444.5,349.8 444.9,351.6 445.3,351.8 445.7,352.6 446.1,352.0 446.5,352.2 446.9,350.5 447.3,348.2 447.7,344.9 448.1,342.5 448.5,342.2 448.9,342.4 449.3,342.1 449.7,340.6 450.1,338.7 450.5,336.8 450.9,335.6 451.3,334.5 451.7,333.4 452.1,332.3 452.5,331.7 452.9,331.1 453.3,329.6 453.7,327.2 454.1,324.9 454.5,322.4 454.9,320.3 455.3,318.8 455.7,317.2 456.1,314.6 456.5,310.7 456.9,307.1 457.3,304.8 457.7,303.5 458.1,302.2 458.5,300.7 458.9,297.8 459.3,294.9 459.7,292.1 460.1,289.4 460.5,285.3 460.9,281.2 461.3,277.1 461.7,273.0 462.1,269.3 462.5,265.6 462.9,261.9 463.3,256.5 463.7,251.0 464.1,245.5 464.5,241.2 464.9,237.1 465.3,233.1 465.7,228.4 466.1,223.3 466.5,218.1 466.9,212.9 467.3,207.7 467.7,202.6 468.1,197.5 468.5,192.3 468.9,187.2 469.3,184.9 469.7,184.2 470.1,183.7 470.5,187.1 470.9,190.7 471.3,194.3 471.7,198.3 472.1,203.2 472.5,208.1 472.9,212.9 473.3,217.7 473.7,221.6 474.1,225.4 474.5,229.3 474.9,234.4 475.3,240.6 475.7,246.8 476.1,252.9 476.5,259.6 476.9,267.3 477.3,274.9 477.7,282.3 478.1,288.5 478.5,294.8 478.9,299.4 479.3,303.9 479.7,308.4 480.1,313.0 480.5,317.5 480.9,322.4 481.3,327.3 481.7,332.3 482.1,336.6 482.5,340.7 482.9,344.7 483.3,348.8 483.7,353.1 484.1,357.7 484.5,362.3 484.9,366.9 485.3,371.2 485.7,375.2 486.1,379.3 486.5,381.3 486.9,382.7 487.3,384.1 487.7,385.4 488.1,386.8 488.5,389.2 488.9,391.7 489.3,394.2 489.7,396.5 490.1,398.0 490.5,399.4 490.9,400.3 491.3,401.4 491.7,402.7 492.1,403.9 492.5,405.2 492.9,405.5 493.3,405.6 493.7,405.7 494.1,405.9 494.5,407.4 494.9,409.0 495.3,410.7 495.7,411.2 496.1,410.7 496.5,410.1 496.9,409.9 497.3,409.6 497.7,410.0 498.1,411.7 498.5,413.4 498.9,415.3 499.3,416.0 499.7,415.0 500.1,413.9 500.5,412.8 500.9,414.7 501.3,416.7 501.7,418.7 502.1,421.1 502.5,423.4 502.9,424.6 503.3,425.6 503.7,426.3 504.1,427.1 504.5,427.5 504.9,427.3 505.3,427.1 505.7,427.0 506.1,427.2 506.5,428.3 506.9,429.5 507.3,431.1 507.7,432.9 508.1,434.7 508.5,435.0 508.9,435.3 509.3,435.6 509.7,435.9 510.1,436.2 510.5,436.2 510.9,436.1 511.3,436.0 511.7,436.2 512.1,436.4 512.5,436.6 512.9,436.9 513.3,437.5 513.7,438.1 514.1,438.6 514.5,439.1 514.9,438.9 515.3,438.6 515.7,438.5 516.1,438.6 516.5,438.6 516.9,438.7 517.3,438.8 517.7,438.9 518.1,438.8 518.5,438.9 518.9,439.1 519.3,439.3 519.7,439.6 520.1,439.7 520.5,439.8 520.9,439.9 521.3,440.1 521.7,440.8 522.1,441.9 522.5,443.0 522.9,443.2 523.3,443.3 523.7,443.5 524.1,443.7 524.5,443.7 524.9,443.8 525.3,443.8 525.7,443.5 526.1,443.3 526.5,443.0 526.9,442.6 527.3,441.7 527.7,440.7 528.1,440.0 528.5,440.4 528.9,440.9 529.3,441.5 529.7,442.0 530.1,442.8 530.5,443.7 530.9,444.7 531.3,445.6 531.7,446.6 532.1,447.8 532.5,449.0 532.9,450.2 533.3,450.5 533.7,450.7 534.1,451.1 534.5,450.3 534.9,448.4 535.3,446.3 535.7,444.2 536.1,444.6 536.5,445.5 536.9,446.9 537.3,447.8 537.7,448.0 538.1,446.2 538.5,445.8 538.9,444.4 539.3,444.2 539.7,443.3 540.1,443.2 540.5,442.3 540.9,443.3 541.3,445.5 541.7,448.6 542.1,449.4 542.5,449.8 542.9,448.5 543.3,449.0 543.7,447.2 544.1,446.4 544.5,444.0 544.9,443.1 545.3,442.0 545.7,443.5 546.1,443.7 546.5,445.2 546.9,445.5 547.3,446.7 547.7,446.9 548.1,447.8 548.5,447.9 548.9,448.7 549.3,449.2 549.7,450.4 550.1,450.8 550.5,450.1 550.9,447.7 551.3,446.1 551.7,444.7 552.1,446.4 552.5,447.4 552.9,449.0 553.3,450.2 553.7,451.6 554.1,453.0 554.5,453.9 554.9,454.6 555.3,454.6 555.7,454.6 556.1,454.9 556.5,455.6 556.9,456.2 557.3,456.8 557.7,457.0 558.1,456.7 558.5,456.4 558.9,456.2 559.3,456.0 559.7,455.9 560.1,455.8 560.5,455.6 560.9,455.9 561.3,456.2 561.7,456.4 562.1,456.7 562.5,457.3 562.9,457.8 563.3,458.3 563.7,458.7 564.1,459.1 564.5,459.4 564.9,459.7 565.3,459.4 565.7,458.8 566.1,457.5 566.5,456.0 566.9,456.8 567.3,459.2 567.7,461.6 568.1,462.5 568.5,461.1 568.9,459.8 569.3,458.4 569.7,457.8 570.1,459.0 570.5,460.4 570.9,461.0 571.3,459.1 571.7,457.0 572.1,455.6 572.5,456.4 572.9,457.5 573.3,458.3 573.7,459.7 574.1,461.0 574.5,462.7 574.9,463.8 575.3,462.0 575.7,459.9 576.1,458.1 576.5,458.4 576.9,460.2 577.3,461.7 577.7,462.2 578.1,461.3 578.5,460.9 578.9,461.1 579.3,462.0 579.7,462.5 580.1,463.5 580.5,462.4 580.9,460.7 581.3,458.6 581.7,457.1 582.1,458.2 582.5,459.8 582.9,460.8 583.3,461.2 583.7,461.1 584.1,461.5 584.5,460.7 584.9,459.4 585.3,457.5 585.7,456.2 586.1,456.5 586.5,458.4 586.9,459.5 587.3,460.5 587.7,460.2 588.1,460.9 588.5,460.7 588.9,460.6 589.3,458.5 589.7,457.5 590.1,456.0 590.5,455.9 590.9,454.9 591.3,457.1 591.7,458.7 592.1,461.1 592.5,460.0 592.9,460.2 593.3,459.2 593.7,459.1 594.1,457.1 594.5,456.2 594.9,455.3 595.3,458.7 595.7,460.2 596.1,463.6 596.5,456.4 596.9,463.3 597.3,450.3 597.7,467.9 598.1,429.7 598.5,465.5 598.9,421.4 599.3,463.4 599.7,420.1 600.1,463.0 600.5,422.6 600.9,453.9 601.3,431.7 601.7,457.8 602.1,432.1 602.5,458.4 602.9,431.9 603.3,467.8"/>
<rect x="439.2" y="11.0" width="2.9" height="161.0" fill="#f00" stroke="none"/>
<rect x="439.2" y="172.0" width="5.0" height="297.0" fill="#f00" stroke="none"/>
<rect x="442.1" y="12.0" width="1.6" height="24.0" fill="#00f" stroke="none"/>
<rect x="442.1" y="36.0" width="1.6" height="136.0" fill="#000" stroke="none"/>
<rect x="444.2" y="172.0" width="1.0" height="128.0" fill="#8040ff" stroke="none"/>
<rect x="606.7" y="12.0" width="5.6" height="248.0" fill="#f0f" stroke="none"/>
<rect x="607.3" y="90.0" width="3.3" height="210.0" fill="#00f" stroke="none"/>
<rect x="611.5" y="260.0" width="2.0" height="209.0" fill="#00f" stroke="none"/>
<rect x="603.2" y="330.0" width="1.0" height="82.0" fill="#00f" stroke="none"/>
<rect x="604.0" y="290.0" width="7.5" height="179.0" fill="#000" stroke="none"/>
<rect x="607.3" y="217.0" width="2.2" height="73.0" fill="#000" stroke="none"/>
</g>
<g clip-path="url(#c3)" fill="none" stroke-linejoin="round" stroke-linecap="round">
<polyline stroke="#f0f" stroke-width="3.2" points="620.6,304.8 621.0,340.4 621.4,304.5 621.8,336.4 622.2,303.2 622.6,338.0 623.0,302.2 623.4,341.6 623.8,315.0 624.2,338.8 624.6,315.0 625.0,338.8 625.4,313.7 625.8,338.7 626.2,315.1 626.6,329.9 627.0,304.6 627.4,329.8 627.8,301.6 628.2,336.6 628.6,307.8 629.0,334.9 629.4,307.5 629.8,335.0 630.2,304.3 630.6,337.8 631.0,301.2 631.4,336.3 631.8,290.2 632.2,336.5 632.6,285.8 633.0,333.2 633.4,288.3 633.8,314.1 634.2,284.4 634.6,311.0 635.0,280.3 635.4,307.2 635.8,286.6 636.2,318.0 636.6,281.4 637.0,311.6 637.4,281.9 637.8,310.8 638.2,275.1 638.6,311.9 639.0,275.5 639.4,296.1 639.8,266.0 640.2,283.1 640.6,259.9 641.0,268.0 641.4,253.9 641.8,254.2 642.2,250.7 642.6,249.2 643.0,248.0 643.4,245.5 643.8,243.0 644.2,240.5 644.6,237.3 645.0,234.0 645.4,230.8 645.8,230.5 646.2,229.8 646.6,228.6 647.0,224.9 647.4,221.3 647.8,217.6 648.2,214.4 648.6,212.7 649.0,210.9 649.4,209.1 649.8,207.1 650.2,205.1 650.6,201.3 651.0,197.0 651.4,192.6 651.8,188.1 652.2,182.5 652.6,176.9 653.0,171.8 653.4,170.1 653.8,168.9 654.2,167.6 654.6,166.4 655.0,164.0 655.4,162.3 655.8,161.0 656.2,159.8 656.6,158.5 657.0,157.1 657.4,155.8 657.8,157.2 658.2,158.6 658.6,161.1 659.0,163.6 659.4,166.1 659.8,168.6 660.2,170.7 660.6,174.3 661.0,180.3 661.4,186.0 661.8,190.5 662.2,194.9 662.6,202.9 663.0,212.0 663.4,220.9 663.8,229.7 664.2,235.4 664.6,240.2 665.0,245.0 665.4,249.7 665.8,255.5 666.2,261.8 666.6,268.1 667.0,274.4 667.4,280.9 667.8,287.3 668.2,293.6 668.6,299.2 669.0,304.5 669.4,309.9 669.8,315.0 670.2,319.8 670.6,323.9 671.0,327.0 671.4,330.0 671.8,333.0 672.2,336.1 672.6,340.5 673.0,345.7 673.4,350.9 673.8,353.9 674.2,354.9 674.6,355.9 675.0,357.9 675.4,361.3 675.8,364.6 676.2,368.1 676.6,370.3 677.0,372.5 677.4,374.7 677.8,376.2 678.2,377.3 678.6,378.4 679.0,379.4 679.4,382.0 679.8,385.4 680.2,388.8 680.6,390.6 681.0,390.8 681.4,390.7 681.8,391.7 682.2,394.5 682.6,397.4 683.0,399.8 683.4,399.5 683.8,399.1 684.2,398.9 684.6,399.3 685.0,399.8 685.4,399.0 685.8,397.5 686.2,395.0 686.6,396.2 687.0,396.4 687.4,398.0 687.8,397.5 688.2,396.3 688.6,393.8 689.0,392.4 689.4,390.0 689.8,388.2 690.2,387.1 690.6,388.1 691.0,389.3 691.4,390.9 691.8,389.6 692.2,388.1 692.6,386.0 693.0,385.0 693.4,386.2 693.8,388.3 694.2,390.3 694.6,391.2 695.0,389.0 695.4,388.8 695.8,390.1 696.2,393.7 696.6,394.9 697.0,398.8 697.4,399.6 697.8,403.0 698.2,400.1 698.6,400.8 699.0,396.9 699.4,399.0 699.8,398.9 700.2,404.9 700.6,404.1 701.0,407.3 701.4,404.5 701.8,408.5 702.2,401.6 702.6,407.1 703.0,398.8 703.4,408.0 703.8,403.9 704.2,416.3 704.6,406.9 705.0,417.4 705.4,405.4 705.8,417.1 706.2,404.7 706.6,416.3 707.0,403.9 707.4,414.1 707.8,409.1 708.2,416.0 708.6,411.9 709.0,418.9 709.4,411.5 709.8,422.5 710.2,411.3 710.6,422.4 711.0,411.5 711.4,422.8 711.8,413.5 712.2,423.9 712.6,412.1 713.0,424.1 713.4,412.4 713.8,424.3 714.2,416.2 714.6,429.0 715.0,421.6 715.4,428.9 715.8,423.7 716.2,430.3 716.6,426.6 717.0,430.7 717.4,427.3 717.8,431.2 718.2,427.6 718.6,431.5 719.0,429.7 719.4,432.4 719.8,431.7 720.2,433.1 720.6,432.1 721.0,432.7 721.4,431.7 721.8,434.0 722.2,435.4 722.6,438.2 723.0,439.1 723.4,441.3 723.8,441.9 724.2,441.6 724.6,440.8 725.0,440.4 725.4,440.2 725.8,441.6 726.2,442.5 726.6,444.1 727.0,443.9 727.4,444.4 727.8,444.2 728.2,446.3 728.6,448.1 729.0,450.5 729.4,451.6 729.8,452.0 730.2,451.4 730.6,451.9 731.0,452.8 731.4,455.1 731.8,456.0 732.2,458.2 732.6,458.5 733.0,460.7 733.4,459.8 733.8,460.1 734.2,458.8 734.6,460.0 735.0,460.4 735.4,462.5 735.8,462.9 736.2,464.6 736.6,463.6 737.0,464.4 737.4,463.5 737.8,465.0 738.2,464.6 738.6,466.0 739.0,465.4 739.4,465.7 739.8,464.1 740.2,464.7 740.6,462.6 741.0,461.9 741.4,458.9 741.8,461.2 742.2,462.8 742.6,466.0 743.0,466.9 743.4,466.9 743.8,465.2 744.2,464.5 744.6,462.3 745.0,461.8 745.4,459.5 745.8,460.8 746.2,461.0 746.6,463.6 747.0,463.8 747.4,464.8 747.8,463.1 748.2,463.5 748.6,461.6 749.0,461.3 749.4,459.0 749.8,459.1 750.2,461.0 750.6,465.1 751.0,467.0 751.4,468.5 751.8,467.0 752.2,467.8 752.6,466.5 753.0,466.6 753.4,464.4 753.8,464.4 754.2,462.3 754.6,463.3 755.0,462.0 755.4,463.6 755.8,463.9 756.2,465.7 756.6,465.2 757.0,466.3 757.4,465.9 757.8,467.2 758.2,465.6 758.6,466.0 759.0,464.5 759.4,466.0 759.8,465.7 760.2,466.0 760.6,463.7 761.0,462.4 761.4,460.2 761.8,459.2 762.2,458.2 762.6,459.1 763.0,458.2 763.4,461.3 763.8,462.9 764.2,466.3 764.6,466.5 765.0,467.4 765.4,464.2 765.8,465.0 766.2,454.4 766.6,462.7 767.0,448.4 767.4,460.7 767.8,438.5 768.2,454.4 768.6,425.1 769.0,450.2 769.4,416.4 769.8,458.1 770.2,402.3 770.6,452.9 771.0,398.9 771.4,456.2 771.8,394.8 772.2,462.2 772.6,388.5 773.0,466.8"/>
<polyline stroke="#f00" stroke-width="3.2" points="616.8,357.9 617.2,464.5 617.6,358.3 618.0,460.1 618.4,359.8 618.8,453.4 619.2,361.3 619.6,448.7 620.0,341.5 620.4,440.7 620.8,341.9 621.2,433.5 621.6,343.3 622.0,422.0 622.4,335.9 622.8,382.7 623.2,338.2 623.6,373.9 624.0,331.9 624.4,369.3 624.8,325.9 625.2,365.0 625.6,297.5 626.0,367.9 626.4,290.6 626.8,341.2 627.2,274.1 627.6,333.2 628.0,266.5 628.4,317.8 628.8,257.0 629.2,297.9 629.6,242.9 630.0,286.2 630.4,230.7 630.8,268.7 631.2,222.3 631.6,256.6 632.0,210.4 632.4,245.6 632.8,211.5 633.2,238.9 633.6,201.5 634.0,227.3 634.4,194.3 634.8,225.5 635.2,178.5 635.6,219.6 636.0,168.6 636.4,209.8 636.8,159.3 637.2,205.3 637.6,144.5 638.0,197.2 638.4,143.8 638.8,184.7 639.2,143.1 639.6,178.8 640.0,140.3 640.4,172.7 640.8,138.0 640.7,178.4 641.0,130.4 641.3,178.4 641.2,167.5 641.6,138.6 642.0,172.9 642.4,147.6 642.8,169.2 643.2,148.6 643.6,166.5 644.0,149.8 644.4,163.3 644.8,150.4 645.2,157.5 645.6,149.9 646.0,153.0 646.4,147.2 646.8,163.2 647.2,174.3 647.6,185.8 648.0,196.2 648.4,208.5 648.8,220.4 649.2,234.7 649.6,241.6 650.0,250.3 650.4,254.5 650.8,263.6 651.2,268.4 651.6,278.7 652.0,284.3 652.4,293.0 652.8,294.0 653.2,301.8 653.6,302.7 654.0,311.4 654.4,312.1 654.8,320.4 655.2,320.6 655.6,327.9 656.0,328.2 656.4,334.3 656.8,335.1 657.2,342.5 657.6,343.9 658.0,352.3 658.4,352.2 658.8,357.8 659.2,356.4 659.6,360.9 660.0,360.9 660.4,366.0 660.8,365.8 661.2,370.3 661.6,369.2 662.0,374.1 662.4,372.5 662.8,377.9 663.2,375.9 663.6,380.3 664.0,377.2 664.4,381.9 664.8,379.3 665.2,384.6 665.6,386.1 666.0,391.4 666.4,393.7 666.8,394.3 667.2,392.1 667.6,393.6 668.0,394.4 668.4,398.2 668.8,399.5 669.2,401.7 669.6,401.4 670.0,403.2 670.4,403.2 670.8,405.2 671.2,405.6 671.6,407.7 672.0,407.7 672.4,407.7 672.8,406.2 673.2,406.2 673.6,406.7 674.0,410.3 674.4,411.0 674.8,413.0 675.2,411.6 675.6,413.7 676.0,412.6 676.4,415.1 676.8,413.5 677.2,417.6 677.6,414.9 678.0,418.6 678.4,415.0 678.8,420.4 679.2,411.9 679.6,424.6 680.0,410.3 680.4,428.5 680.8,407.2 681.2,429.7 681.6,405.0 682.0,431.8 682.4,412.0 682.8,435.0 683.2,410.5 683.6,435.2 684.0,409.5 684.4,428.0 684.8,408.3 685.2,427.3 685.6,406.6 686.0,434.0 686.4,399.4 686.8,435.9 687.2,398.5 687.2,438.5 687.5,366.8 687.8,438.5 687.6,434.6 688.0,398.0 688.4,435.3 688.8,400.2 689.2,434.4 689.6,400.0 690.0,436.2 690.4,397.2 690.8,439.6 691.2,394.7 691.6,440.4 691.3,446.1 691.6,334.8 691.9,446.1 692.0,393.1 692.4,433.6 692.8,411.2 693.2,433.8 693.6,410.6 694.0,436.2 694.4,410.6 694.8,442.5 695.2,408.6 695.6,442.3 696.0,410.4 695.7,447.6 696.0,381.3 696.3,447.6 696.4,442.7 696.8,408.7 697.2,443.8 697.6,416.4 698.0,427.5 698.4,414.3 698.8,429.5 699.2,414.1 699.6,428.7 700.0,403.9 700.4,442.8 700.8,405.3 701.2,445.3 701.0,449.9 701.3,345.4 701.6,449.9 701.6,415.9 702.0,434.4 702.4,416.6 702.8,434.9 703.2,415.5 703.6,434.9 703.3,449.9 703.6,373.7 703.9,449.9 704.0,409.5 704.4,437.4 704.8,406.5 705.2,438.9 705.6,407.3 706.0,439.0 705.9,449.9 706.2,347.7 706.5,449.9 706.4,405.9 706.8,443.9 707.2,397.8 707.6,441.8 708.0,399.2 708.4,444.2 708.8,403.3 709.2,445.4 709.6,416.6 710.0,436.6 710.4,418.8 710.8,437.5 711.2,416.2 711.6,451.2 712.0,411.8 712.4,452.2 712.8,411.9 712.5,453.7 712.8,378.2 713.1,453.7 713.2,452.3 713.6,415.6 714.0,450.2 714.4,416.1 714.8,444.3 715.2,417.4 715.6,446.1 716.0,419.2 716.4,448.7 716.8,423.1 717.2,449.6 717.6,428.4 718.0,446.6 718.4,430.4 718.8,447.4 719.2,433.2 719.6,449.2 720.0,432.5 720.4,450.3 720.8,432.7 721.2,455.7 721.6,428.8 722.0,456.7 722.4,428.1 722.8,458.8 723.2,429.1 723.6,459.1 724.0,438.0 724.4,459.5 724.8,439.6 725.2,461.8 725.6,439.5 726.0,463.4 726.4,443.9 726.8,460.4 727.2,446.5 727.6,459.4 728.0,454.9 728.4,463.6 728.8,459.4 729.2,465.6 729.6,457.8 730.0,463.2 730.4,457.2 730.8,461.7 731.2,457.6 731.6,460.5 732.0,456.4 732.4,461.2 732.8,457.1 733.2,462.0 733.6,459.4 734.0,464.0 734.4,461.5 734.8,463.5 735.2,459.5 735.6,461.9 736.0,459.6 736.4,463.0 736.8,461.1 737.2,464.1 737.6,462.4 738.0,465.8 738.4,464.4 738.8,463.6 739.2,458.5 739.6,459.7 740.0,460.1 740.4,464.0 740.8,464.3 741.2,465.1 741.6,461.0 742.0,461.6 742.4,457.5 742.8,459.7 743.2,456.1 743.6,458.3 744.0,456.0 744.4,460.7 744.8,459.3 745.2,464.2 745.6,463.2 746.0,463.5 746.4,460.3 746.8,460.6 747.2,459.1 747.6,460.7 748.0,459.1 748.4,460.0 748.8,457.1 749.2,458.7 749.6,454.6 750.0,458.7 750.4,454.8 750.8,459.9 751.2,457.8 751.6,463.8 752.0,463.4 752.4,466.0 752.8,461.3 753.2,461.8 753.6,458.2 754.0,460.3 754.4,457.0 754.8,459.0 755.2,455.5 755.6,459.6 756.0,455.3 756.4,459.9 756.8,455.0 757.2,458.7 757.6,454.2 758.0,459.1 758.4,454.7 758.8,460.7 759.2,455.5 759.6,460.6 760.0,455.1 760.4,460.4 760.8,456.2 761.2,460.9 761.6,452.6 762.0,465.3 762.4,446.0 762.8,468.0 763.2,447.0 763.6,468.1 764.0,446.7 764.4,460.1 764.8,454.2 765.2,462.7 765.6,454.8 766.0,461.4 766.4,453.3 766.8,460.3 767.2,449.7 767.6,465.8 768.0,452.1 768.4,466.3 768.8,450.8 769.2,464.5 769.6,449.8 770.0,462.0 770.4,444.7 770.8,464.8 771.2,435.8 771.6,463.7 772.0,418.2 772.4,464.6 772.8,404.7 773.2,464.3 773.6,401.4 774.0,461.4 774.4,401.0 774.8,457.4 775.2,396.7 775.6,459.9 776.0,394.9 776.4,456.7 776.8,391.1 777.2,454.8 777.6,398.7"/>
<polyline stroke="#00f" stroke-width="3.2" points="620.6,306.2 621.0,337.1 621.4,303.7 621.8,338.1 622.2,300.6 622.6,335.6 623.0,296.9 623.4,325.6 623.8,292.5 624.2,320.6 624.6,291.5 625.0,319.3 625.4,289.8 625.8,317.5 626.2,285.1 626.6,318.3 627.0,301.3 627.4,316.1 627.8,298.4 628.2,316.9 628.6,298.4 629.0,314.3 629.4,295.4 629.8,328.4 630.2,292.6 630.6,324.8 631.0,293.6 631.4,322.0 631.8,289.3 632.2,318.9 632.6,288.8 633.0,318.6 633.4,280.7 633.8,307.5 634.2,276.4 634.6,305.9 635.0,278.0 635.4,300.8 635.8,281.4 636.2,298.2 636.6,279.5 637.0,290.5 637.4,279.9 637.8,283.3 638.2,272.8 638.6,276.0 639.0,270.9 639.4,271.8 639.8,262.9 640.2,253.4 640.6,243.4 641.0,233.2 641.4,228.4 641.8,224.1 642.2,219.3 642.6,213.6 643.0,207.9 643.4,202.3 643.8,196.9 644.2,187.9 644.6,178.2 645.0,170.0 645.4,165.1 645.8,158.8 646.2,152.4 646.6,148.3 647.0,147.6 647.4,147.2 647.8,146.9 648.2,146.5 648.6,145.8 649.0,144.1 649.4,142.5 649.8,141.2 650.2,141.9 650.6,143.3 651.0,144.8 651.4,146.3 651.8,147.8 652.2,149.1 652.6,150.5 653.0,151.9 653.4,153.3 653.8,156.3 654.2,160.9 654.6,165.5 655.0,170.1 655.4,175.3 655.8,194.3 656.2,201.3 656.6,208.6 657.0,216.6 657.4,224.4 657.8,232.2 658.2,238.4 658.6,244.2 659.0,250.1 659.4,256.8 659.8,263.6 660.2,270.3 660.6,277.1 661.0,282.9 661.4,288.4 661.8,293.9 662.2,299.7 662.6,305.5 663.0,311.3 663.4,317.1 663.8,321.4 664.2,325.9 664.6,330.8 665.0,337.0 665.4,343.4 665.8,349.9 666.2,354.5 666.6,356.9 667.0,359.4 667.4,361.9 667.8,364.9 668.2,368.1 668.6,371.2 669.0,374.4 669.4,377.5 669.8,380.3 670.2,381.9 670.6,383.2 671.0,384.4 671.4,385.6 671.8,387.9 672.2,390.1 672.6,392.4 673.0,394.8 673.4,397.6 673.8,401.1 674.2,403.8 674.6,407.2 675.0,408.4 675.4,410.8 675.8,410.5 676.2,412.8 676.6,411.2 677.0,414.2 677.4,411.8 677.8,417.5 678.2,415.5 678.6,422.0 679.0,420.4 679.4,426.9 679.8,419.9 680.2,428.3 680.6,420.1 681.0,429.7 681.4,418.3 681.8,428.8 682.2,409.8 682.6,430.3 683.0,410.6 683.4,434.3 683.8,410.2 684.2,436.2 684.6,412.0 685.0,429.2 685.4,410.3 685.8,430.1 686.2,411.9 686.6,430.6 687.0,412.2 687.4,432.8 687.8,412.5 688.2,431.6 688.6,414.9 689.0,432.3 689.4,412.4 689.8,433.2 690.2,412.3 690.6,433.9 691.0,414.2 691.4,443.1 691.8,416.8 692.2,443.1 692.6,416.7 693.0,436.6 693.4,415.3 693.8,438.6 694.2,418.8 694.6,441.5 695.0,419.9 695.4,443.4 695.8,420.1 696.2,444.6 696.6,419.2 697.0,444.8 697.4,421.2 697.8,444.9 698.2,421.4 698.6,443.7 699.0,421.9 699.4,446.5 699.8,423.3 700.2,446.3 700.6,422.7 701.0,445.3 701.4,426.7 701.8,446.1 702.2,428.2 702.6,447.5 703.0,428.8 703.4,443.7 703.8,432.0 704.2,444.1 704.6,431.8 705.0,442.6 705.4,433.1 705.8,445.5 706.2,432.0 706.6,446.0 707.0,433.2 707.4,445.4 707.8,434.3 708.2,446.9 708.6,434.5 709.0,443.4 709.4,432.5 709.8,442.3 710.2,432.9 710.6,442.1 711.0,433.5 711.4,442.5 711.8,433.7 712.2,441.2 712.6,433.0 713.0,440.5 713.4,433.1 713.8,440.9 714.2,435.8 714.6,444.8 715.0,438.1 715.4,445.7 715.8,439.9 716.2,446.6 716.6,444.4 717.0,449.7 717.4,447.9 717.8,449.9 718.2,447.3 718.6,449.2 719.0,449.4 719.4,451.3 719.8,451.3 720.2,452.9 720.6,451.3 721.0,450.9 721.4,449.6 721.8,448.9 722.2,448.6 722.6,448.7 723.0,448.7 723.4,448.8 723.8,448.3 724.2,447.6 724.6,447.0 725.0,446.5 725.4,447.3 725.8,448.0 726.2,448.4 726.6,448.2 727.0,448.0 727.4,447.8 727.8,448.0 728.2,448.3 728.6,448.6 729.0,449.0 729.4,449.5 729.8,450.6 730.2,451.5 730.6,452.5 731.0,451.9 731.4,451.3 731.8,450.6 732.2,450.4 732.6,450.5 733.0,450.6 733.4,450.9 733.8,451.0 734.2,451.1 734.6,451.3 735.0,451.8 735.4,452.3 735.8,452.6 736.2,451.7 736.6,450.8 737.0,449.9 737.4,449.3 737.8,449.2 738.2,449.1 738.6,448.8 739.0,448.5 739.4,448.2 739.8,447.9 740.2,447.7 740.6,447.6 741.0,447.7 741.4,448.4 741.8,449.2 742.2,450.0 742.6,450.8 743.0,450.6 743.4,450.2 743.8,449.9 744.2,449.6 744.6,449.7 745.0,449.8 745.4,449.8 745.8,449.7 746.2,449.5 746.6,449.1 747.0,448.6 747.4,448.1 747.8,447.7 748.2,447.4 748.6,447.0 749.0,446.6 749.4,445.6 749.8,444.6 750.2,443.5 750.6,443.2 751.0,442.9 751.4,442.7 751.8,443.2 752.2,445.5 752.6,447.9 753.0,449.0 753.4,448.5 753.8,448.2 754.2,447.2 754.6,446.2 755.0,444.3 755.4,444.3 755.8,444.4 756.2,446.7 756.6,446.6 757.0,447.6 757.4,442.7 757.8,440.7 758.2,440.1 758.6,445.7 759.0,447.2 759.4,449.4 759.8,445.5 760.2,448.8 760.6,443.3 761.0,445.7 761.4,438.1 761.8,441.9 762.2,435.7 762.6,442.2 763.0,434.1 763.4,440.7 763.8,431.4 764.2,439.4 764.6,428.0 765.0,436.0 765.4,423.5 765.8,434.6 766.2,425.5 766.6,437.5 767.0,425.5 767.4,435.9 767.8,421.1 768.2,432.1 768.6,419.5 769.0,430.4 769.4,417.1 769.8,430.8 770.2,414.0 770.6,429.1 771.0,409.0 771.4,427.3 771.8,405.3 772.2,427.3 772.6,401.9 773.0,425.6 773.4,392.1 773.8,424.5 774.2,385.6 774.6,424.2 775.0,379.7 775.4,429.4 775.8,388.1 776.2,426.3 776.6,387.6 777.0,426.8 777.4,381.5 777.8,417.0 778.2,373.2 778.6,416.8 779.0,372.6 779.4,399.7"/>
<polyline stroke="#000" stroke-width="3.2" points="617.8,209.9 618.2,277.5 618.6,216.5 619.0,285.3 619.4,215.8 619.8,285.8 620.2,225.4 620.6,290.2 621.0,222.5 621.4,313.4 621.8,226.9 622.2,318.3 622.6,230.1 623.0,318.4 623.4,234.6 623.8,294.2 624.2,242.0 624.6,245.5 625.0,226.5 625.4,214.7 625.8,202.7 626.2,194.1 626.6,187.2 627.0,180.2 627.4,173.4 627.8,164.1 628.2,153.7 628.6,143.3 629.0,133.3 629.4,124.1 629.8,118.2 630.2,113.4 630.6,108.4 631.0,103.5 631.4,99.0 631.8,96.6 632.2,96.6 632.6,99.1 633.0,102.8 633.4,106.5 633.8,109.1 634.2,110.7 634.6,112.2 635.0,118.7 635.4,126.2 635.8,134.4 636.2,142.5 636.6,150.1 637.0,158.2 637.4,166.1 637.8,174.5 638.2,184.4 638.6,194.1 639.0,203.9 639.4,215.2 639.8,226.4 640.2,236.9 640.6,246.3 641.0,253.6 641.4,260.7 641.8,267.8 642.2,276.5 642.6,285.8 643.0,293.8 643.4,299.3 643.8,303.9 644.2,308.6 644.6,313.3 645.0,318.7 645.4,325.1 645.8,331.5 646.2,336.7 646.6,341.2 647.0,345.6 647.4,350.1 647.8,355.4 648.2,362.6 648.6,369.9 649.0,377.1 649.4,381.5 649.8,381.4 650.2,381.3 650.6,382.6 651.0,384.8 651.4,386.9 651.8,389.1 652.2,391.4 652.6,393.9 653.0,396.3 653.4,398.6 653.8,400.1 654.2,401.5 654.6,402.8 655.0,404.1 655.4,405.4 655.8,406.7 656.2,408.0 656.6,409.3 657.0,410.1 657.4,410.4 657.8,410.8 658.2,411.2 658.6,413.5 659.0,415.8 659.4,418.2 659.8,419.3 660.2,419.9 660.6,420.4 661.0,421.0 661.4,421.9 661.8,423.9 662.2,425.9 662.6,427.0 663.0,427.6 663.4,428.1 663.8,428.7 664.2,429.2 664.6,429.5 665.0,429.8 665.4,430.3 665.8,431.2 666.2,432.1 666.6,433.0 667.0,433.6 667.4,434.3 667.8,434.9 668.2,435.6 668.6,436.1 669.0,436.6 669.4,436.7 669.8,436.8 670.2,436.4 670.6,436.1 671.0,435.7 671.4,435.1 671.8,434.5 672.2,434.0 672.6,434.3 673.0,435.8 673.4,437.2 673.8,437.9 674.2,437.6 674.6,437.4 675.0,437.1 675.4,437.0 675.8,437.5 676.2,438.3 676.6,439.0 677.0,439.6 677.4,439.8 677.8,440.1 678.2,440.3 678.6,441.2 679.0,443.0 679.4,444.7 679.8,446.0 680.2,446.8 680.6,447.6 681.0,448.2 681.4,448.4 681.8,448.5 682.2,448.8 682.6,449.5 683.0,450.3 683.4,451.0 683.8,451.7 684.2,452.3 684.6,452.9 685.0,453.2 685.4,452.1 685.8,451.1 686.2,450.0 686.6,447.6 687.0,445.6 687.4,442.5 687.8,447.3 688.2,445.7 688.6,451.1 689.0,445.4 689.4,447.3 689.8,441.7 690.2,447.1 690.6,445.9 691.0,451.6 691.4,449.2 691.8,451.2 692.2,448.2 692.6,451.9 693.0,451.5 693.4,455.3 693.8,451.3 694.2,450.4 694.6,447.4 695.0,449.1 695.4,451.7 695.8,454.4 696.2,455.6 696.6,456.3 697.0,456.9 697.4,457.3 697.8,456.9 698.2,455.3 698.6,453.0 699.0,452.1 699.4,449.3 699.8,451.2 700.2,446.3 700.6,450.2 701.0,444.4 701.4,451.7 701.8,446.3 702.2,453.4 702.6,448.0 703.0,455.2 703.4,448.7 703.8,455.2 704.2,448.7 704.6,453.0 705.0,446.3 705.4,450.6 705.8,444.9 706.2,449.5 706.6,445.1 707.0,448.3 707.4,445.6 707.8,450.5 708.2,448.6 708.6,452.3 709.0,449.9 709.4,452.9 709.8,451.0 710.2,453.9 710.6,451.4 711.0,453.5 711.4,451.3 711.8,454.4 712.2,453.9 712.6,457.2 713.0,456.1 713.4,457.3 713.8,456.0 714.2,456.5 714.6,455.7 715.0,458.0 715.4,459.2 715.8,460.8 716.2,460.6 716.6,459.9 717.0,459.1 717.4,458.3 717.8,457.5 718.2,456.7 718.6,455.9 719.0,456.2 719.4,457.1 719.8,458.1 720.2,459.0 720.6,458.8 721.0,458.4 721.4,458.0 721.8,457.5 722.2,457.1 722.6,456.6 723.0,456.2 723.4,455.9 723.8,455.8 724.2,455.7 724.6,455.8 725.0,456.0 725.4,456.3 725.8,456.7 726.2,457.4 726.6,458.2 727.0,459.0 727.4,459.1 727.8,458.7 728.2,458.4 728.6,458.1 729.0,458.2 729.4,458.4 729.8,458.5 730.2,458.7 730.6,458.4 731.0,458.1 731.4,457.7 731.8,457.4 732.2,457.3 732.6,457.2 733.0,457.2 733.4,457.3 733.8,457.5 734.2,457.7 734.6,458.4 735.0,459.1 735.4,459.8 735.8,460.0 736.2,459.6 736.6,459.3 737.0,458.9 737.4,458.6 737.8,458.4 738.2,458.1 738.6,458.1 739.0,459.2 739.4,460.3 739.8,461.4 740.2,461.2 740.6,460.8 741.0,460.4 741.4,460.4 741.8,460.4 742.2,460.4 742.6,460.7 743.0,461.1 743.4,461.5 743.8,460.9 744.2,460.2 744.6,459.4 745.0,459.1 745.4,459.0 745.8,459.0 746.2,458.8 746.6,458.3 747.0,457.6 747.4,456.9 747.8,457.3 748.2,457.6 748.6,458.0 749.0,457.7 749.4,456.9 749.8,456.1 750.2,455.3 750.6,454.8 751.0,454.3 751.4,453.7 751.8,453.8 752.2,454.5 752.6,455.1 753.0,455.1 753.4,455.2 753.8,455.2 754.2,455.2 754.6,454.7 755.0,453.9 755.4,453.1 755.8,452.3 756.2,452.1 756.6,452.7 757.0,453.2 757.4,453.8 757.8,454.4 758.2,455.1 758.6,455.7 759.0,456.3 759.4,455.2 759.8,454.2 760.2,453.2 760.6,453.2 761.0,453.3 761.4,453.3 761.8,455.0 762.2,456.7 762.6,458.0 763.0,456.9 763.4,455.7 763.8,454.5 764.2,453.7 764.6,453.3 765.0,452.8 765.4,452.4 765.8,452.8 766.2,453.9 766.6,455.0 767.0,456.1 767.4,457.3 767.8,457.2 768.2,456.3 768.6,456.8 769.0,454.2 769.4,456.7 769.8,453.2 770.2,461.5 770.6,455.9 771.0,465.0 771.4,453.2 771.8,466.9 772.2,449.1 772.6,467.6 773.0,443.1 773.4,467.3 773.8,441.3 774.2,466.6 774.6,436.8 775.0,466.6 775.4,434.1 775.8,466.9 776.2,437.1 776.6,465.6 777.0,431.7 777.4,467.0 777.8,427.4 778.2,464.7 778.6,422.5 779.0,465.1 779.4,408.3 779.8,463.3 780.2,399.7 780.6,464.3 781.0,401.2 781.4,459.8 781.8,402.9 782.2,458.6"/>
<rect x="612.7" y="11.0" width="7.3" height="311.0" fill="#000" stroke="none"/>
<rect x="620.0" y="236.0" width="4.6" height="86.0" fill="#000" stroke="none"/>
<rect x="612.7" y="322.0" width="5.3" height="147.0" fill="#000" stroke="none"/>
<rect x="620.0" y="12.0" width="1.3" height="224.0" fill="#f00" stroke="none"/>
<rect x="775.4" y="258.0" width="2.6" height="154.0" fill="#f0f" stroke="none"/>
<rect x="773.3" y="368.0" width="2.1" height="44.0" fill="#f0f" stroke="none"/>
<rect x="779.1" y="185.0" width="3.1" height="36.0" fill="#f0f" stroke="none"/>
<rect x="778.8" y="258.0" width="3.4" height="34.0" fill="#f0f" stroke="none"/>
<rect x="778.8" y="292.0" width="3.4" height="80.0" fill="#f00" stroke="none"/>
<rect x="778.8" y="372.0" width="3.4" height="40.0" fill="#00f" stroke="none"/>
<rect x="782.2" y="11.0" width="3.7" height="154.0" fill="#00f" stroke="none"/>
<rect x="785.9" y="11.0" width="1.0" height="210.0" fill="#fce" stroke="none"/>
<rect x="786.9" y="11.0" width="2.3" height="247.0" fill="#00f" stroke="none"/>
<rect x="786.4" y="258.0" width="2.8" height="72.0" fill="#00f" stroke="none"/>
<rect x="782.2" y="163.0" width="4.2" height="167.0" fill="#000" stroke="none"/>
<rect x="782.0" y="164.0" width="1.0" height="57.0" fill="#00f" stroke="none"/>
<rect x="782.2" y="330.0" width="8.8" height="139.0" fill="#000" stroke="none"/>
<rect x="787.5" y="330.0" width="0.6" height="139.0" fill="#00f" stroke="none"/>
<rect x="776.9" y="412.0" width="5.3" height="57.0" fill="#000" stroke="none"/>
</g>
<rect x="670" y="221" width="116.3" height="37.3" fill="#fff"/>
<g stroke="#000" fill="#000">
<line x1="715.8" y1="100" x2="715.8" y2="221" stroke-width="3.6"/>
<line x1="715.8" y1="258.3" x2="715.8" y2="466" stroke-width="3.6"/>
<rect x="696" y="91" width="40" height="4.2" stroke="none"/>
<rect x="696" y="464.6" width="39.5" height="3.6" stroke="none"/>
<polygon points="715.8,94.5 709.8,105 721.8,105" stroke="none"/>
</g>
<g stroke="#000" stroke-width="2.0" fill="none">
<line x1="86.3" y1="11.4" x2="790.9" y2="11.4"/>
<line x1="86.3" y1="470.1" x2="790.9" y2="470.1"/>
<line x1="87.2" y1="11.4" x2="87.2" y2="470.1"/>
<line x1="262.8" y1="11.4" x2="262.8" y2="470.1" stroke-width="1.5"/>
<line x1="438.4" y1="11.4" x2="438.4" y2="470.1" stroke-width="1.5"/>
<line x1="614.2" y1="11.4" x2="614.2" y2="470.1" stroke-width="1.5"/>
<line x1="789.9" y1="11.4" x2="789.9" y2="470.1" stroke-width="1.8"/>
</g>
<g stroke="#000" stroke-width="1.8">
<line x1="87.2" y1="431.9" x2="91.8" y2="431.9"/>
<line x1="87.2" y1="393.7" x2="96.4" y2="393.7"/>
<line x1="87.2" y1="355.4" x2="91.8" y2="355.4"/>
<line x1="87.2" y1="317.2" x2="96.4" y2="317.2"/>
<line x1="87.2" y1="279.0" x2="91.8" y2="279.0"/>
<line x1="87.2" y1="240.8" x2="96.4" y2="240.8"/>
<line x1="87.2" y1="202.5" x2="91.8" y2="202.5"/>
<line x1="87.2" y1="164.3" x2="96.4" y2="164.3"/>
<line x1="87.2" y1="126.1" x2="91.8" y2="126.1"/>
<line x1="87.2" y1="87.8" x2="96.4" y2="87.8"/>
<line x1="87.2" y1="49.6" x2="91.8" y2="49.6"/>
<line x1="112.8" y1="470.1" x2="112.8" y2="461.3"/>
<line x1="138.3" y1="470.1" x2="138.3" y2="465.9"/>
<line x1="163.9" y1="470.1" x2="163.9" y2="461.3"/>
<line x1="189.4" y1="470.1" x2="189.4" y2="465.9"/>
<line x1="214.9" y1="470.1" x2="214.9" y2="461.3"/>
<line x1="240.5" y1="470.1" x2="240.5" y2="465.9"/>
<line x1="262.8" y1="393.7" x2="267.6" y2="393.7"/>
<line x1="262.8" y1="317.2" x2="272.0" y2="317.2"/>
<line x1="262.8" y1="240.8" x2="267.6" y2="240.8"/>
<line x1="262.8" y1="164.3" x2="272.0" y2="164.3"/>
<line x1="262.8" y1="87.8" x2="267.6" y2="87.8"/>
<line x1="288.4" y1="470.1" x2="288.4" y2="461.3"/>
<line x1="313.9" y1="470.1" x2="313.9" y2="465.9"/>
<line x1="339.5" y1="470.1" x2="339.5" y2="461.3"/>
<line x1="365.0" y1="470.1" x2="365.0" y2="465.9"/>
<line x1="390.6" y1="470.1" x2="390.6" y2="461.3"/>
<line x1="416.1" y1="470.1" x2="416.1" y2="465.9"/>
<line x1="438.4" y1="393.7" x2="443.2" y2="393.7"/>
<line x1="438.4" y1="317.2" x2="447.6" y2="317.2"/>
<line x1="438.4" y1="240.8" x2="443.2" y2="240.8"/>
<line x1="438.4" y1="164.3" x2="447.6" y2="164.3"/>
<line x1="438.4" y1="87.8" x2="443.2" y2="87.8"/>
<line x1="463.9" y1="470.1" x2="463.9" y2="461.3"/>
<line x1="489.5" y1="470.1" x2="489.5" y2="465.9"/>
<line x1="515.0" y1="470.1" x2="515.0" y2="461.3"/>
<line x1="540.6" y1="470.1" x2="540.6" y2="465.9"/>
<line x1="566.1" y1="470.1" x2="566.1" y2="461.3"/>
<line x1="591.7" y1="470.1" x2="591.7" y2="465.9"/>
<line x1="614.2" y1="393.7" x2="619.0" y2="393.7"/>
<line x1="614.2" y1="317.2" x2="623.4" y2="317.2"/>
<line x1="614.2" y1="240.8" x2="619.0" y2="240.8"/>
<line x1="614.2" y1="164.3" x2="623.4" y2="164.3"/>
<line x1="614.2" y1="87.8" x2="619.0" y2="87.8"/>
<line x1="639.8" y1="470.1" x2="639.8" y2="461.3"/>
<line x1="665.3" y1="470.1" x2="665.3" y2="465.9"/>
<line x1="690.9" y1="470.1" x2="690.9" y2="461.3"/>
<line x1="716.4" y1="470.1" x2="716.4" y2="465.9"/>
<line x1="742.0" y1="470.1" x2="742.0" y2="461.3"/>
<line x1="767.5" y1="470.1" x2="767.5" y2="465.9"/>
</g>
<text transform="translate(77.6,477.7) scale(0.935,1)" font-size="27.3" font-family="Liberation Sans, Arial, sans-serif" text-anchor="end" fill="#000" stroke="#000" stroke-width="0.10" >0</text>
<text transform="translate(77.6,401.3) scale(0.935,1)" font-size="27.3" font-family="Liberation Sans, Arial, sans-serif" text-anchor="end" fill="#000" stroke="#000" stroke-width="0.10" >10</text>
<text transform="translate(77.6,324.8) scale(0.935,1)" font-size="27.3" font-family="Liberation Sans, Arial, sans-serif" text-anchor="end" fill="#000" stroke="#000" stroke-width="0.10" >20</text>
<text transform="translate(77.6,248.3) scale(0.935,1)" font-size="27.3" font-family="Liberation Sans, Arial, sans-serif" text-anchor="end" fill="#000" stroke="#000" stroke-width="0.10" >30</text>
<text transform="translate(77.6,171.9) scale(0.935,1)" font-size="27.3" font-family="Liberation Sans, Arial, sans-serif" text-anchor="end" fill="#000" stroke="#000" stroke-width="0.10" >40</text>
<text transform="translate(77.6,95.4) scale(0.935,1)" font-size="27.3" font-family="Liberation Sans, Arial, sans-serif" text-anchor="end" fill="#000" stroke="#000" stroke-width="0.10" >50</text>
<text transform="translate(77.6,19.0) scale(0.935,1)" font-size="27.3" font-family="Liberation Sans, Arial, sans-serif" text-anchor="end" fill="#000" stroke="#000" stroke-width="0.10" >60</text>
<text transform="translate(112.8,500.4) scale(0.935,1)" font-size="27.3" font-family="Liberation Sans, Arial, sans-serif" text-anchor="middle" fill="#000" stroke="#000" stroke-width="0.10" >4</text>
<text transform="translate(163.9,500.4) scale(0.935,1)" font-size="27.3" font-family="Liberation Sans, Arial, sans-serif" text-anchor="middle" fill="#000" stroke="#000" stroke-width="0.10" >6</text>
<text transform="translate(214.9,500.4) scale(0.935,1)" font-size="27.3" font-family="Liberation Sans, Arial, sans-serif" text-anchor="middle" fill="#000" stroke="#000" stroke-width="0.10" >8</text>
<text transform="translate(288.4,500.4) scale(0.935,1)" font-size="27.3" font-family="Liberation Sans, Arial, sans-serif" text-anchor="middle" fill="#000" stroke="#000" stroke-width="0.10" >4</text>
<text transform="translate(339.5,500.4) scale(0.935,1)" font-size="27.3" font-family="Liberation Sans, Arial, sans-serif" text-anchor="middle" fill="#000" stroke="#000" stroke-width="0.10" >6</text>
<text transform="translate(390.6,500.4) scale(0.935,1)" font-size="27.3" font-family="Liberation Sans, Arial, sans-serif" text-anchor="middle" fill="#000" stroke="#000" stroke-width="0.10" >8</text>
<text transform="translate(463.9,500.4) scale(0.935,1)" font-size="27.3" font-family="Liberation Sans, Arial, sans-serif" text-anchor="middle" fill="#000" stroke="#000" stroke-width="0.10" >4</text>
<text transform="translate(515.0,500.4) scale(0.935,1)" font-size="27.3" font-family="Liberation Sans, Arial, sans-serif" text-anchor="middle" fill="#000" stroke="#000" stroke-width="0.10" >6</text>
<text transform="translate(566.1,500.4) scale(0.935,1)" font-size="27.3" font-family="Liberation Sans, Arial, sans-serif" text-anchor="middle" fill="#000" stroke="#000" stroke-width="0.10" >8</text>
<text transform="translate(639.8,500.4) scale(0.935,1)" font-size="27.3" font-family="Liberation Sans, Arial, sans-serif" text-anchor="middle" fill="#000" stroke="#000" stroke-width="0.10" >4</text>
<text transform="translate(690.9,500.4) scale(0.935,1)" font-size="27.3" font-family="Liberation Sans, Arial, sans-serif" text-anchor="middle" fill="#000" stroke="#000" stroke-width="0.10" >6</text>
<text transform="translate(742.0,500.4) scale(0.935,1)" font-size="27.3" font-family="Liberation Sans, Arial, sans-serif" text-anchor="middle" fill="#000" stroke="#000" stroke-width="0.10" >8</text>
<text x="-1.5" y="23.6" font-size="31.5" font-family="Liberation Sans, Arial, sans-serif" text-anchor="start" fill="#000" stroke="#000" stroke-width="0.20" >(a)</text>
<text x="927.0" y="23.4" font-size="31.5" font-family="Liberation Sans, Arial, sans-serif" text-anchor="start" fill="#000" stroke="#000" stroke-width="0.20" >(b)</text>
<text x="113.2" y="46.9" font-size="23.8" font-family="Liberation Sans, Arial, sans-serif" text-anchor="start" fill="#000" stroke="#000" stroke-width="0.20" >SiO<tspan font-size="17" dy="6.3">2</tspan><tspan dy="-6.3">/MHA</tspan></text>
<text x="311.5" y="46.9" font-size="23.8" font-family="Liberation Sans, Arial, sans-serif" text-anchor="start" fill="#000" stroke="#000" stroke-width="0.20" >Si/MHA</text>
<text x="471.8" y="46.9" font-size="23.8" font-family="Liberation Sans, Arial, sans-serif" text-anchor="start" fill="#000" stroke="#000" stroke-width="0.20" >SiO<tspan font-size="17" dy="6.3">2</tspan><tspan dy="-6.3">/NDA</tspan></text>
<text x="662.6" y="46.9" font-size="23.8" font-family="Liberation Sans, Arial, sans-serif" text-anchor="start" fill="#000" stroke="#000" stroke-width="0.20" >Si/NDA</text>
<text x="821.0" y="46.9" font-size="23.8" font-family="Liberation Sans, Arial, sans-serif" text-anchor="start" fill="#000" stroke="#000" stroke-width="0.20" >Period</text>
<text x="822.8" y="91.3" font-size="23.3" font-family="Liberation Sans, Arial, sans-serif" text-anchor="start" fill="#000" stroke="#000" stroke-width="0.20" >1.34</text>
<text x="822.8" y="120.0" font-size="23.3" font-family="Liberation Sans, Arial, sans-serif" text-anchor="start" fill="#f00" stroke="#f00" stroke-width="0.20" >1.43</text>
<text x="822.8" y="148.8" font-size="23.3" font-family="Liberation Sans, Arial, sans-serif" text-anchor="start" fill="#0000d8" stroke="#0000d8" stroke-width="0.20" >1.55</text>
<text x="822.8" y="177.0" font-size="23.3" font-family="Liberation Sans, Arial, sans-serif" text-anchor="start" fill="#f0f" stroke="#f0f" stroke-width="0.20" >1.65<tspan fill="#000" stroke="#000" dx="6.5">µm</tspan></text>
<text x="674.0" y="248.9" font-size="23.8" font-family="Liberation Sans, Arial, sans-serif" text-anchor="start" fill="#000" stroke="#000" stroke-width="0.20" >radiation</text>
<text x="344.8" y="533.8" font-size="28.2" font-family="Liberation Sans, Arial, sans-serif" text-anchor="start" fill="#000" stroke="#000" stroke-width="0.20" >Wavelength (<tspan dx="1">µ</tspan><tspan dx="1.5">m)</tspan></text>
<text transform="translate(35.6,346.6) rotate(-90)" textLength="173" font-size="28.5" font-family="Liberation Sans, Arial, sans-serif" fill="#000" stroke="#000" stroke-width="0.2">Emittance (%)</text>
<defs><clipPath id="cb"><rect x="1014.2" y="12.4" width="621.8" height="455.7"/></clipPath></defs>
<line x1="1014.2" y1="468.1" x2="1636.0" y2="12.4" stroke="#000" stroke-width="2.6" clip-path="url(#cb)"/>
<rect x="1014.2" y="12.4" width="621.8" height="455.7" fill="none" stroke="#000" stroke-width="2.1"/>
<g stroke="#000" stroke-width="1.8">
<line x1="1014.2" y1="422.5" x2="1018.7" y2="422.5"/>
<line x1="1076.4" y1="468.1" x2="1076.4" y2="463.6"/>
<line x1="1014.2" y1="377.0" x2="1023.2" y2="377.0"/>
<line x1="1138.6" y1="468.1" x2="1138.6" y2="459.1"/>
<line x1="1014.2" y1="331.4" x2="1018.7" y2="331.4"/>
<line x1="1200.7" y1="468.1" x2="1200.7" y2="463.6"/>
<line x1="1014.2" y1="285.8" x2="1023.2" y2="285.8"/>
<line x1="1262.9" y1="468.1" x2="1262.9" y2="459.1"/>
<line x1="1014.2" y1="240.2" x2="1018.7" y2="240.2"/>
<line x1="1325.1" y1="468.1" x2="1325.1" y2="463.6"/>
<line x1="1014.2" y1="194.7" x2="1023.2" y2="194.7"/>
<line x1="1387.3" y1="468.1" x2="1387.3" y2="459.1"/>
<line x1="1014.2" y1="149.1" x2="1018.7" y2="149.1"/>
<line x1="1449.5" y1="468.1" x2="1449.5" y2="463.6"/>
<line x1="1014.2" y1="103.5" x2="1023.2" y2="103.5"/>
<line x1="1511.6" y1="468.1" x2="1511.6" y2="459.1"/>
<line x1="1014.2" y1="58.0" x2="1018.7" y2="58.0"/>
<line x1="1573.8" y1="468.1" x2="1573.8" y2="463.6"/>
</g>
<rect x="1139.4" y="360.3" width="17.2" height="17.2" fill="#000"/>
<rect x="1143.5" y="360.3" width="17.2" height="17.2" fill="#000"/>
<rect x="1134.6" y="371.2" width="17.2" height="17.2" fill="#000"/>
<rect x="1125.2" y="388.6" width="17.2" height="17.2" fill="#000"/>
<rect x="1080.8" y="403.0" width="17.2" height="17.2" fill="#000"/>
<rect x="1086.5" y="414.0" width="17.2" height="17.2" fill="#000"/>
<rect x="1076.6" y="415.8" width="17.2" height="17.2" fill="#000"/>
<rect x="1327.7" y="207.3" width="17.2" height="17.2" fill="#000"/>
<rect x="1344.1" y="209.8" width="17.2" height="17.2" fill="#000"/>
<rect x="1303.8" y="237.7" width="17.2" height="17.2" fill="#000"/>
<rect x="1294.3" y="247.6" width="17.2" height="17.2" fill="#000"/>
<rect x="1519.7" y="58.1" width="17.2" height="17.2" fill="#000"/>
<rect x="1555.5" y="66.4" width="17.2" height="17.2" fill="#000"/>
<rect x="1493.8" y="96.2" width="17.2" height="17.2" fill="#000"/>
<rect x="1493.8" y="99.2" width="17.2" height="17.2" fill="#000"/>
<text transform="translate(1004.3,476.0) scale(0.990,1)" font-size="27.2" font-family="Liberation Sans, Arial, sans-serif" text-anchor="end" fill="#000" stroke="#000" stroke-width="0.25" >0</text>
<text transform="translate(1014.2,499.6) scale(0.990,1)" font-size="27.2" font-family="Liberation Sans, Arial, sans-serif" text-anchor="middle" fill="#000" stroke="#000" stroke-width="0.25" >0</text>
<text transform="translate(1004.3,384.9) scale(0.990,1)" font-size="27.2" font-family="Liberation Sans, Arial, sans-serif" text-anchor="end" fill="#000" stroke="#000" stroke-width="0.25" >10</text>
<text transform="translate(1138.6,499.6) scale(0.990,1)" font-size="27.2" font-family="Liberation Sans, Arial, sans-serif" text-anchor="middle" fill="#000" stroke="#000" stroke-width="0.25" >10</text>
<text transform="translate(1004.3,293.7) scale(0.990,1)" font-size="27.2" font-family="Liberation Sans, Arial, sans-serif" text-anchor="end" fill="#000" stroke="#000" stroke-width="0.25" >20</text>
<text transform="translate(1262.9,499.6) scale(0.990,1)" font-size="27.2" font-family="Liberation Sans, Arial, sans-serif" text-anchor="middle" fill="#000" stroke="#000" stroke-width="0.25" >20</text>
<text transform="translate(1004.3,202.6) scale(0.990,1)" font-size="27.2" font-family="Liberation Sans, Arial, sans-serif" text-anchor="end" fill="#000" stroke="#000" stroke-width="0.25" >30</text>
<text transform="translate(1387.3,499.6) scale(0.990,1)" font-size="27.2" font-family="Liberation Sans, Arial, sans-serif" text-anchor="middle" fill="#000" stroke="#000" stroke-width="0.25" >30</text>
<text transform="translate(1004.3,111.4) scale(0.990,1)" font-size="27.2" font-family="Liberation Sans, Arial, sans-serif" text-anchor="end" fill="#000" stroke="#000" stroke-width="0.25" >40</text>
<text transform="translate(1511.6,499.6) scale(0.990,1)" font-size="27.2" font-family="Liberation Sans, Arial, sans-serif" text-anchor="middle" fill="#000" stroke="#000" stroke-width="0.25" >40</text>
<text transform="translate(1004.3,20.3) scale(0.990,1)" font-size="27.2" font-family="Liberation Sans, Arial, sans-serif" text-anchor="end" fill="#000" stroke="#000" stroke-width="0.25" >50</text>
<text transform="translate(1636.0,499.6) scale(0.990,1)" font-size="27.2" font-family="Liberation Sans, Arial, sans-serif" text-anchor="middle" fill="#000" stroke="#000" stroke-width="0.25" >50</text>
<text x="1175.0" y="392.5" font-size="23.8" font-family="Liberation Sans, Arial, sans-serif" text-anchor="start" fill="#000" stroke="#000" stroke-width="0.20" >Si/MHA</text>
<text x="1108.8" y="441.9" font-size="23.8" font-family="Liberation Sans, Arial, sans-serif" text-anchor="start" fill="#000" stroke="#000" stroke-width="0.20" >SiO<tspan font-size="17" dy="6.3">2</tspan><tspan dy="-6.3">/MHA</tspan></text>
<text x="1372.8" y="250.4" font-size="23.8" font-family="Liberation Sans, Arial, sans-serif" text-anchor="start" fill="#000" stroke="#000" stroke-width="0.20" >SiO<tspan font-size="17" dy="6.3">2</tspan><tspan dy="-6.3">/NDA</tspan></text>
<text x="1409.0" y="87.0" font-size="23.8" font-family="Liberation Sans, Arial, sans-serif" text-anchor="start" fill="#000" stroke="#000" stroke-width="0.20" >Si/NDA</text>
<text x="1213.0" y="545.5" font-size="31.2" font-family="Liberation Sans, Arial, sans-serif" text-anchor="start" fill="#000" stroke="#000" stroke-width="0.20" >Absrobance (%)</text>
<text transform="translate(951.3,358.2) rotate(-90)" font-size="31.4" font-family="Liberation Sans, Arial, sans-serif" fill="#000" stroke="#000" stroke-width="0.2">Emittance (%)</text>
</svg>
</body></html>
